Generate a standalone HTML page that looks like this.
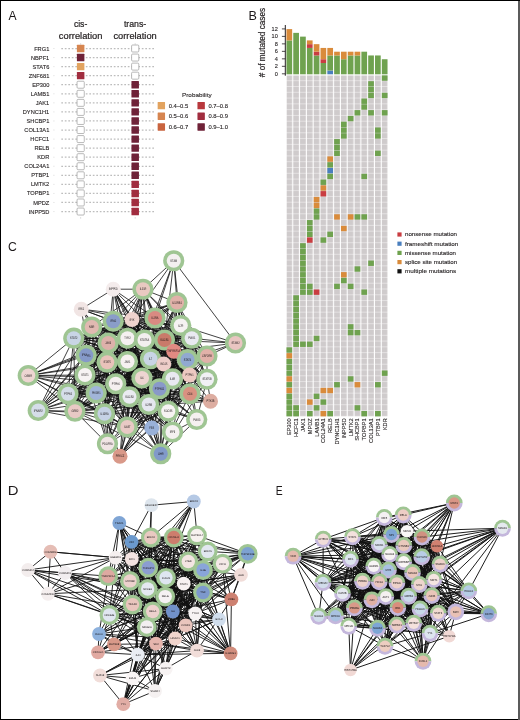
<!DOCTYPE html>
<html lang="en"><head><meta charset="utf-8"><title>Figure</title>
<style>html,body{margin:0;padding:0;background:#fff}body{width:520px;height:720px;overflow:hidden}svg{display:block}text{font-family:"Liberation Sans", sans-serif}</style></head><body>
<svg width="520" height="720" viewBox="0 0 520 720">
<rect x="0" y="0" width="520" height="720" fill="#fff"/>
<g id="panelA">
<text transform="translate(8.43 19.95) scale(0.887 1)" font-size="13.7" fill="#1c1819">A</text>
<text x="80.60" y="26.90" font-size="9.4" text-anchor="middle" fill="#231f20" textLength="13.40" lengthAdjust="spacingAndGlyphs" stroke="#231f20" stroke-width="0.22">cis-</text>
<text x="80.60" y="38.90" font-size="9.4" text-anchor="middle" fill="#231f20" textLength="43.50" lengthAdjust="spacingAndGlyphs" stroke="#231f20" stroke-width="0.22">correlation</text>
<text x="135.10" y="26.90" font-size="9.4" text-anchor="middle" fill="#231f20" textLength="22.40" lengthAdjust="spacingAndGlyphs" stroke="#231f20" stroke-width="0.22">trans-</text>
<text x="135.10" y="38.90" font-size="9.4" text-anchor="middle" fill="#231f20" textLength="43.30" lengthAdjust="spacingAndGlyphs" stroke="#231f20" stroke-width="0.22">correlation</text>
<path d="M80.65 43.3V44.6M80.65 217.2V218.6" stroke="#b5b5b5" stroke-width="0.6"/>
<path d="M135.20 43.3V44.6M135.20 217.2V218.6" stroke="#b5b5b5" stroke-width="0.6"/>
<line x1="61.3" y1="48.50" x2="154.3" y2="48.50" stroke="#bdbdbd" stroke-width="1.25" stroke-dasharray="1.7 1.8"/>
<line x1="53.3" y1="48.50" x2="54.5" y2="48.50" stroke="#d6d6d6" stroke-width="0.7"/>
<text x="49.30" y="50.55" font-size="5.7" text-anchor="end" fill="#2d292a" stroke="#2d292a" stroke-width="0.12">FRG1</text>
<rect x="76.90" y="44.80" width="7.5" height="7.4" rx="0.5" fill="#d68550"/>
<rect x="131.60" y="45.00" width="7.2" height="7.0" rx="1" fill="#fff" stroke="#a2a2a2" stroke-width="0.75"/>
<line x1="61.3" y1="57.56" x2="154.3" y2="57.56" stroke="#bdbdbd" stroke-width="1.25" stroke-dasharray="1.7 1.8"/>
<line x1="53.3" y1="57.56" x2="54.5" y2="57.56" stroke="#d6d6d6" stroke-width="0.7"/>
<text x="49.30" y="59.61" font-size="5.7" text-anchor="end" fill="#2d292a" stroke="#2d292a" stroke-width="0.12">NBPF1</text>
<rect x="76.90" y="53.86" width="7.5" height="7.4" rx="0.5" fill="#6f2238"/>
<rect x="131.60" y="54.06" width="7.2" height="7.0" rx="1" fill="#fff" stroke="#a2a2a2" stroke-width="0.75"/>
<line x1="61.3" y1="66.62" x2="154.3" y2="66.62" stroke="#bdbdbd" stroke-width="1.25" stroke-dasharray="1.7 1.8"/>
<line x1="53.3" y1="66.62" x2="54.5" y2="66.62" stroke="#d6d6d6" stroke-width="0.7"/>
<text x="49.30" y="68.67" font-size="5.7" text-anchor="end" fill="#2d292a" stroke="#2d292a" stroke-width="0.12">STAT6</text>
<rect x="76.90" y="62.92" width="7.5" height="7.4" rx="0.5" fill="#e2a35f"/>
<rect x="131.60" y="63.12" width="7.2" height="7.0" rx="1" fill="#fff" stroke="#a2a2a2" stroke-width="0.75"/>
<line x1="61.3" y1="75.67" x2="154.3" y2="75.67" stroke="#bdbdbd" stroke-width="1.25" stroke-dasharray="1.7 1.8"/>
<line x1="53.3" y1="75.67" x2="54.5" y2="75.67" stroke="#d6d6d6" stroke-width="0.7"/>
<text x="49.30" y="77.72" font-size="5.7" text-anchor="end" fill="#2d292a" stroke="#2d292a" stroke-width="0.12">ZNF681</text>
<rect x="76.90" y="71.97" width="7.5" height="7.4" rx="0.5" fill="#a12d3f"/>
<rect x="131.60" y="72.17" width="7.2" height="7.0" rx="1" fill="#fff" stroke="#a2a2a2" stroke-width="0.75"/>
<line x1="61.3" y1="84.73" x2="154.3" y2="84.73" stroke="#bdbdbd" stroke-width="1.25" stroke-dasharray="1.7 1.8"/>
<line x1="53.3" y1="84.73" x2="54.5" y2="84.73" stroke="#d6d6d6" stroke-width="0.7"/>
<text x="49.30" y="86.78" font-size="5.7" text-anchor="end" fill="#2d292a" stroke="#2d292a" stroke-width="0.12">EP300</text>
<rect x="77.05" y="81.23" width="7.2" height="7.0" rx="1" fill="#fff" stroke="#a2a2a2" stroke-width="0.75"/>
<rect x="131.45" y="81.03" width="7.5" height="7.4" rx="0.5" fill="#6f2238"/>
<line x1="61.3" y1="93.79" x2="154.3" y2="93.79" stroke="#bdbdbd" stroke-width="1.25" stroke-dasharray="1.7 1.8"/>
<line x1="53.3" y1="93.79" x2="54.5" y2="93.79" stroke="#d6d6d6" stroke-width="0.7"/>
<text x="49.30" y="95.84" font-size="5.7" text-anchor="end" fill="#2d292a" stroke="#2d292a" stroke-width="0.12">LAMB1</text>
<rect x="77.05" y="90.29" width="7.2" height="7.0" rx="1" fill="#fff" stroke="#a2a2a2" stroke-width="0.75"/>
<rect x="131.45" y="90.09" width="7.5" height="7.4" rx="0.5" fill="#6f2238"/>
<line x1="61.3" y1="102.85" x2="154.3" y2="102.85" stroke="#bdbdbd" stroke-width="1.25" stroke-dasharray="1.7 1.8"/>
<line x1="53.3" y1="102.85" x2="54.5" y2="102.85" stroke="#d6d6d6" stroke-width="0.7"/>
<text x="49.30" y="104.90" font-size="5.7" text-anchor="end" fill="#2d292a" stroke="#2d292a" stroke-width="0.12">JAK1</text>
<rect x="77.05" y="99.35" width="7.2" height="7.0" rx="1" fill="#fff" stroke="#a2a2a2" stroke-width="0.75"/>
<rect x="131.45" y="99.15" width="7.5" height="7.4" rx="0.5" fill="#6f2238"/>
<line x1="61.3" y1="111.91" x2="154.3" y2="111.91" stroke="#bdbdbd" stroke-width="1.25" stroke-dasharray="1.7 1.8"/>
<line x1="53.3" y1="111.91" x2="54.5" y2="111.91" stroke="#d6d6d6" stroke-width="0.7"/>
<text x="49.30" y="113.96" font-size="5.7" text-anchor="end" fill="#2d292a" stroke="#2d292a" stroke-width="0.12">DYNC1H1</text>
<rect x="77.05" y="108.41" width="7.2" height="7.0" rx="1" fill="#fff" stroke="#a2a2a2" stroke-width="0.75"/>
<rect x="131.45" y="108.21" width="7.5" height="7.4" rx="0.5" fill="#6f2238"/>
<line x1="61.3" y1="120.96" x2="154.3" y2="120.96" stroke="#bdbdbd" stroke-width="1.25" stroke-dasharray="1.7 1.8"/>
<line x1="53.3" y1="120.96" x2="54.5" y2="120.96" stroke="#d6d6d6" stroke-width="0.7"/>
<text x="49.30" y="123.01" font-size="5.7" text-anchor="end" fill="#2d292a" stroke="#2d292a" stroke-width="0.12">SHCBP1</text>
<rect x="77.05" y="117.46" width="7.2" height="7.0" rx="1" fill="#fff" stroke="#a2a2a2" stroke-width="0.75"/>
<rect x="131.45" y="117.26" width="7.5" height="7.4" rx="0.5" fill="#6f2238"/>
<line x1="61.3" y1="130.02" x2="154.3" y2="130.02" stroke="#bdbdbd" stroke-width="1.25" stroke-dasharray="1.7 1.8"/>
<line x1="53.3" y1="130.02" x2="54.5" y2="130.02" stroke="#d6d6d6" stroke-width="0.7"/>
<text x="49.30" y="132.07" font-size="5.7" text-anchor="end" fill="#2d292a" stroke="#2d292a" stroke-width="0.12">COL13A1</text>
<rect x="77.05" y="126.52" width="7.2" height="7.0" rx="1" fill="#fff" stroke="#a2a2a2" stroke-width="0.75"/>
<rect x="131.45" y="126.32" width="7.5" height="7.4" rx="0.5" fill="#6f2238"/>
<line x1="61.3" y1="139.08" x2="154.3" y2="139.08" stroke="#bdbdbd" stroke-width="1.25" stroke-dasharray="1.7 1.8"/>
<line x1="53.3" y1="139.08" x2="54.5" y2="139.08" stroke="#d6d6d6" stroke-width="0.7"/>
<text x="49.30" y="141.13" font-size="5.7" text-anchor="end" fill="#2d292a" stroke="#2d292a" stroke-width="0.12">HCFC1</text>
<rect x="77.05" y="135.58" width="7.2" height="7.0" rx="1" fill="#fff" stroke="#a2a2a2" stroke-width="0.75"/>
<rect x="131.45" y="135.38" width="7.5" height="7.4" rx="0.5" fill="#6f2238"/>
<line x1="61.3" y1="148.14" x2="154.3" y2="148.14" stroke="#bdbdbd" stroke-width="1.25" stroke-dasharray="1.7 1.8"/>
<line x1="53.3" y1="148.14" x2="54.5" y2="148.14" stroke="#d6d6d6" stroke-width="0.7"/>
<text x="49.30" y="150.19" font-size="5.7" text-anchor="end" fill="#2d292a" stroke="#2d292a" stroke-width="0.12">RELB</text>
<rect x="77.05" y="144.64" width="7.2" height="7.0" rx="1" fill="#fff" stroke="#a2a2a2" stroke-width="0.75"/>
<rect x="131.45" y="144.44" width="7.5" height="7.4" rx="0.5" fill="#6f2238"/>
<line x1="61.3" y1="157.20" x2="154.3" y2="157.20" stroke="#bdbdbd" stroke-width="1.25" stroke-dasharray="1.7 1.8"/>
<line x1="53.3" y1="157.20" x2="54.5" y2="157.20" stroke="#d6d6d6" stroke-width="0.7"/>
<text x="49.30" y="159.25" font-size="5.7" text-anchor="end" fill="#2d292a" stroke="#2d292a" stroke-width="0.12">KDR</text>
<rect x="77.05" y="153.70" width="7.2" height="7.0" rx="1" fill="#fff" stroke="#a2a2a2" stroke-width="0.75"/>
<rect x="131.45" y="153.50" width="7.5" height="7.4" rx="0.5" fill="#6f2238"/>
<line x1="61.3" y1="166.25" x2="154.3" y2="166.25" stroke="#bdbdbd" stroke-width="1.25" stroke-dasharray="1.7 1.8"/>
<line x1="53.3" y1="166.25" x2="54.5" y2="166.25" stroke="#d6d6d6" stroke-width="0.7"/>
<text x="49.30" y="168.30" font-size="5.7" text-anchor="end" fill="#2d292a" stroke="#2d292a" stroke-width="0.12">COL24A1</text>
<rect x="77.05" y="162.75" width="7.2" height="7.0" rx="1" fill="#fff" stroke="#a2a2a2" stroke-width="0.75"/>
<rect x="131.45" y="162.55" width="7.5" height="7.4" rx="0.5" fill="#6f2238"/>
<line x1="61.3" y1="175.31" x2="154.3" y2="175.31" stroke="#bdbdbd" stroke-width="1.25" stroke-dasharray="1.7 1.8"/>
<line x1="53.3" y1="175.31" x2="54.5" y2="175.31" stroke="#d6d6d6" stroke-width="0.7"/>
<text x="49.30" y="177.36" font-size="5.7" text-anchor="end" fill="#2d292a" stroke="#2d292a" stroke-width="0.12">PTBP1</text>
<rect x="77.05" y="171.81" width="7.2" height="7.0" rx="1" fill="#fff" stroke="#a2a2a2" stroke-width="0.75"/>
<rect x="131.45" y="171.61" width="7.5" height="7.4" rx="0.5" fill="#6f2238"/>
<line x1="61.3" y1="184.37" x2="154.3" y2="184.37" stroke="#bdbdbd" stroke-width="1.25" stroke-dasharray="1.7 1.8"/>
<line x1="53.3" y1="184.37" x2="54.5" y2="184.37" stroke="#d6d6d6" stroke-width="0.7"/>
<text x="49.30" y="186.42" font-size="5.7" text-anchor="end" fill="#2d292a" stroke="#2d292a" stroke-width="0.12">LMTK2</text>
<rect x="77.05" y="180.87" width="7.2" height="7.0" rx="1" fill="#fff" stroke="#a2a2a2" stroke-width="0.75"/>
<rect x="131.45" y="180.67" width="7.5" height="7.4" rx="0.5" fill="#a12d3f"/>
<line x1="61.3" y1="193.43" x2="154.3" y2="193.43" stroke="#bdbdbd" stroke-width="1.25" stroke-dasharray="1.7 1.8"/>
<line x1="53.3" y1="193.43" x2="54.5" y2="193.43" stroke="#d6d6d6" stroke-width="0.7"/>
<text x="49.30" y="195.48" font-size="5.7" text-anchor="end" fill="#2d292a" stroke="#2d292a" stroke-width="0.12">TOPBP1</text>
<rect x="77.05" y="189.93" width="7.2" height="7.0" rx="1" fill="#fff" stroke="#a2a2a2" stroke-width="0.75"/>
<rect x="131.45" y="189.73" width="7.5" height="7.4" rx="0.5" fill="#a12d3f"/>
<line x1="61.3" y1="202.49" x2="154.3" y2="202.49" stroke="#bdbdbd" stroke-width="1.25" stroke-dasharray="1.7 1.8"/>
<line x1="53.3" y1="202.49" x2="54.5" y2="202.49" stroke="#d6d6d6" stroke-width="0.7"/>
<text x="49.30" y="204.54" font-size="5.7" text-anchor="end" fill="#2d292a" stroke="#2d292a" stroke-width="0.12">MPDZ</text>
<rect x="77.05" y="198.99" width="7.2" height="7.0" rx="1" fill="#fff" stroke="#a2a2a2" stroke-width="0.75"/>
<rect x="131.45" y="198.79" width="7.5" height="7.4" rx="0.5" fill="#a12d3f"/>
<line x1="61.3" y1="211.54" x2="154.3" y2="211.54" stroke="#bdbdbd" stroke-width="1.25" stroke-dasharray="1.7 1.8"/>
<line x1="53.3" y1="211.54" x2="54.5" y2="211.54" stroke="#d6d6d6" stroke-width="0.7"/>
<text x="49.30" y="213.59" font-size="5.7" text-anchor="end" fill="#2d292a" stroke="#2d292a" stroke-width="0.12">INPP5D</text>
<rect x="77.05" y="208.04" width="7.2" height="7.0" rx="1" fill="#fff" stroke="#a2a2a2" stroke-width="0.75"/>
<rect x="131.45" y="207.84" width="7.5" height="7.4" rx="0.5" fill="#a12d3f"/>
<text x="196.80" y="96.80" font-size="6.0" text-anchor="middle" fill="#2d292a" textLength="29.50" lengthAdjust="spacingAndGlyphs" stroke="#2d292a" stroke-width="0.12">Probability</text>
<rect x="157.65" y="101.90" width="7.4" height="7.4" rx="0.4" fill="#e2a35f"/>
<text x="168.65" y="107.70" font-size="5.7" text-anchor="start" fill="#2d292a" textLength="19.50" lengthAdjust="spacingAndGlyphs" stroke="#2d292a" stroke-width="0.12">0.4–0.5</text>
<rect x="157.65" y="112.55" width="7.4" height="7.4" rx="0.4" fill="#d68550"/>
<text x="168.65" y="118.35" font-size="5.7" text-anchor="start" fill="#2d292a" textLength="19.50" lengthAdjust="spacingAndGlyphs" stroke="#2d292a" stroke-width="0.12">0.5–0.6</text>
<rect x="157.65" y="123.30" width="7.4" height="7.4" rx="0.4" fill="#c9643f"/>
<text x="168.65" y="129.10" font-size="5.7" text-anchor="start" fill="#2d292a" textLength="19.50" lengthAdjust="spacingAndGlyphs" stroke="#2d292a" stroke-width="0.12">0.6–0.7</text>
<rect x="197.45" y="101.90" width="7.4" height="7.4" rx="0.4" fill="#b8383d"/>
<text x="208.45" y="107.70" font-size="5.7" text-anchor="start" fill="#2d292a" textLength="19.50" lengthAdjust="spacingAndGlyphs" stroke="#2d292a" stroke-width="0.12">0.7–0.8</text>
<rect x="197.45" y="112.55" width="7.4" height="7.4" rx="0.4" fill="#a12d3f"/>
<text x="208.45" y="118.35" font-size="5.7" text-anchor="start" fill="#2d292a" textLength="19.50" lengthAdjust="spacingAndGlyphs" stroke="#2d292a" stroke-width="0.12">0.8–0.9</text>
<rect x="197.45" y="123.30" width="7.4" height="7.4" rx="0.4" fill="#6f2238"/>
<text x="208.45" y="129.10" font-size="5.7" text-anchor="start" fill="#2d292a" textLength="19.50" lengthAdjust="spacingAndGlyphs" stroke="#2d292a" stroke-width="0.12">0.9–1.0</text>
</g>
<g id="panelB">
<text transform="translate(248.57 19.95) scale(0.92 1)" font-size="13.7" fill="#1c1819">B</text>
<text transform="translate(265.3 77.2) rotate(-90)" font-size="8.6" fill="#231f20" stroke="#231f20" stroke-width="0.2" textLength="69.3" lengthAdjust="spacingAndGlyphs"># of mutated cases</text>
<path d="M285.3 25V75.7" stroke="#231f20" stroke-width="1" fill="none"/>
<path d="M281.9 73.80H285.3" stroke="#231f20" stroke-width="0.8"/>
<text x="277.80" y="75.75" font-size="5.6" text-anchor="end" fill="#2d292a" stroke="#2d292a" stroke-width="0.12">0</text>
<path d="M281.9 66.32H285.3" stroke="#231f20" stroke-width="0.8"/>
<text x="277.80" y="68.27" font-size="5.6" text-anchor="end" fill="#2d292a" stroke="#2d292a" stroke-width="0.12">2</text>
<path d="M281.9 58.83H285.3" stroke="#231f20" stroke-width="0.8"/>
<text x="277.80" y="60.78" font-size="5.6" text-anchor="end" fill="#2d292a" stroke="#2d292a" stroke-width="0.12">4</text>
<path d="M281.9 51.35H285.3" stroke="#231f20" stroke-width="0.8"/>
<text x="277.80" y="53.30" font-size="5.6" text-anchor="end" fill="#2d292a" stroke="#2d292a" stroke-width="0.12">6</text>
<path d="M281.9 43.86H285.3" stroke="#231f20" stroke-width="0.8"/>
<text x="277.80" y="45.81" font-size="5.6" text-anchor="end" fill="#2d292a" stroke="#2d292a" stroke-width="0.12">8</text>
<path d="M281.9 36.38H285.3" stroke="#231f20" stroke-width="0.8"/>
<text x="277.80" y="38.33" font-size="5.6" text-anchor="end" fill="#2d292a" stroke="#2d292a" stroke-width="0.12">10</text>
<path d="M281.9 28.90H285.3" stroke="#231f20" stroke-width="0.8"/>
<text x="277.80" y="30.85" font-size="5.6" text-anchor="end" fill="#2d292a" stroke="#2d292a" stroke-width="0.12">12</text>
<rect x="286.46" y="40.40" width="5.7" height="33.90" fill="#6fa24f"/>
<rect x="286.46" y="29.10" width="5.7" height="11.30" fill="#d98b3b"/>
<rect x="293.27" y="32.86" width="5.7" height="41.44" fill="#6fa24f"/>
<rect x="300.08" y="36.63" width="5.7" height="37.67" fill="#6fa24f"/>
<rect x="306.90" y="47.93" width="5.7" height="26.37" fill="#6fa24f"/>
<rect x="306.90" y="44.16" width="5.7" height="3.77" fill="#c93d41"/>
<rect x="306.90" y="40.40" width="5.7" height="3.77" fill="#d98b3b"/>
<rect x="313.71" y="55.46" width="5.7" height="18.84" fill="#6fa24f"/>
<rect x="313.71" y="51.70" width="5.7" height="3.77" fill="#c93d41"/>
<rect x="313.71" y="44.16" width="5.7" height="7.53" fill="#d98b3b"/>
<rect x="320.52" y="63.00" width="5.7" height="11.30" fill="#6fa24f"/>
<rect x="320.52" y="59.23" width="5.7" height="3.77" fill="#c93d41"/>
<rect x="320.52" y="47.93" width="5.7" height="11.30" fill="#d98b3b"/>
<rect x="327.33" y="70.53" width="5.7" height="3.77" fill="#4a7fbe"/>
<rect x="327.33" y="55.46" width="5.7" height="15.07" fill="#6fa24f"/>
<rect x="327.33" y="47.93" width="5.7" height="7.53" fill="#d98b3b"/>
<rect x="334.14" y="55.46" width="5.7" height="18.84" fill="#6fa24f"/>
<rect x="334.14" y="51.70" width="5.7" height="3.77" fill="#d98b3b"/>
<rect x="340.96" y="59.23" width="5.7" height="15.07" fill="#6fa24f"/>
<rect x="340.96" y="51.70" width="5.7" height="7.53" fill="#d98b3b"/>
<rect x="347.77" y="55.46" width="5.7" height="18.84" fill="#6fa24f"/>
<rect x="347.77" y="51.70" width="5.7" height="3.77" fill="#d98b3b"/>
<rect x="354.58" y="55.46" width="5.7" height="18.84" fill="#6fa24f"/>
<rect x="354.58" y="51.70" width="5.7" height="3.77" fill="#d98b3b"/>
<rect x="361.39" y="51.70" width="5.7" height="22.60" fill="#6fa24f"/>
<rect x="368.20" y="55.46" width="5.7" height="18.84" fill="#6fa24f"/>
<rect x="375.02" y="55.46" width="5.7" height="18.84" fill="#6fa24f"/>
<rect x="381.83" y="59.23" width="5.7" height="15.07" fill="#6fa24f"/>
<defs><pattern id="gc" x="286.460" y="75.400" width="6.812" height="5.786" patternUnits="userSpaceOnUse"><rect x="0" y="0" width="5.7" height="5.366" fill="#cfcbcc"/></pattern></defs>
<rect x="286.46" y="75.40" width="101.28" height="340.95" fill="url(#gc)"/>
<rect x="286.46" y="347.34" width="5.7" height="5.37" fill="#6fa24f"/>
<rect x="286.46" y="353.13" width="5.7" height="5.37" fill="#d98b3b"/>
<rect x="286.46" y="358.91" width="5.7" height="5.37" fill="#6fa24f"/>
<rect x="286.46" y="364.70" width="5.7" height="5.37" fill="#6fa24f"/>
<rect x="286.46" y="370.49" width="5.7" height="5.37" fill="#6fa24f"/>
<rect x="286.46" y="376.27" width="5.7" height="5.37" fill="#d98b3b"/>
<rect x="286.46" y="382.06" width="5.7" height="5.37" fill="#6fa24f"/>
<rect x="286.46" y="387.84" width="5.7" height="5.37" fill="#d98b3b"/>
<rect x="286.46" y="393.63" width="5.7" height="5.37" fill="#6fa24f"/>
<rect x="286.46" y="399.42" width="5.7" height="5.37" fill="#6fa24f"/>
<rect x="286.46" y="405.20" width="5.7" height="5.37" fill="#6fa24f"/>
<rect x="286.46" y="410.99" width="5.7" height="5.37" fill="#6fa24f"/>
<rect x="293.27" y="295.27" width="5.7" height="5.37" fill="#6fa24f"/>
<rect x="293.27" y="301.05" width="5.7" height="5.37" fill="#6fa24f"/>
<rect x="293.27" y="306.84" width="5.7" height="5.37" fill="#6fa24f"/>
<rect x="293.27" y="312.63" width="5.7" height="5.37" fill="#6fa24f"/>
<rect x="293.27" y="318.41" width="5.7" height="5.37" fill="#6fa24f"/>
<rect x="293.27" y="324.20" width="5.7" height="5.37" fill="#6fa24f"/>
<rect x="293.27" y="329.98" width="5.7" height="5.37" fill="#6fa24f"/>
<rect x="293.27" y="335.77" width="5.7" height="5.37" fill="#6fa24f"/>
<rect x="293.27" y="341.56" width="5.7" height="5.37" fill="#6fa24f"/>
<rect x="293.27" y="405.20" width="5.7" height="5.37" fill="#6fa24f"/>
<rect x="293.27" y="410.99" width="5.7" height="5.37" fill="#6fa24f"/>
<rect x="300.08" y="243.19" width="5.7" height="5.37" fill="#6fa24f"/>
<rect x="300.08" y="248.98" width="5.7" height="5.37" fill="#6fa24f"/>
<rect x="300.08" y="254.77" width="5.7" height="5.37" fill="#6fa24f"/>
<rect x="300.08" y="260.55" width="5.7" height="5.37" fill="#6fa24f"/>
<rect x="300.08" y="266.34" width="5.7" height="5.37" fill="#6fa24f"/>
<rect x="300.08" y="272.12" width="5.7" height="5.37" fill="#6fa24f"/>
<rect x="300.08" y="277.91" width="5.7" height="5.37" fill="#6fa24f"/>
<rect x="300.08" y="283.70" width="5.7" height="5.37" fill="#6fa24f"/>
<rect x="300.08" y="289.48" width="5.7" height="5.37" fill="#6fa24f"/>
<rect x="300.08" y="341.56" width="5.7" height="5.37" fill="#6fa24f"/>
<rect x="306.90" y="220.05" width="5.7" height="5.37" fill="#6fa24f"/>
<rect x="306.90" y="225.84" width="5.7" height="5.37" fill="#6fa24f"/>
<rect x="306.90" y="231.62" width="5.7" height="5.37" fill="#6fa24f"/>
<rect x="306.90" y="237.41" width="5.7" height="5.37" fill="#c93d41"/>
<rect x="306.90" y="283.70" width="5.7" height="5.37" fill="#6fa24f"/>
<rect x="306.90" y="289.48" width="5.7" height="5.37" fill="#6fa24f"/>
<rect x="306.90" y="341.56" width="5.7" height="5.37" fill="#6fa24f"/>
<rect x="306.90" y="399.42" width="5.7" height="5.37" fill="#d98b3b"/>
<rect x="306.90" y="410.99" width="5.7" height="5.37" fill="#6fa24f"/>
<rect x="313.71" y="196.91" width="5.7" height="5.37" fill="#d98b3b"/>
<rect x="313.71" y="202.69" width="5.7" height="5.37" fill="#d98b3b"/>
<rect x="313.71" y="208.48" width="5.7" height="5.37" fill="#6fa24f"/>
<rect x="313.71" y="214.26" width="5.7" height="5.37" fill="#6fa24f"/>
<rect x="313.71" y="289.48" width="5.7" height="5.37" fill="#c93d41"/>
<rect x="313.71" y="335.77" width="5.7" height="5.37" fill="#6fa24f"/>
<rect x="313.71" y="393.63" width="5.7" height="5.37" fill="#6fa24f"/>
<rect x="313.71" y="405.20" width="5.7" height="5.37" fill="#6fa24f"/>
<rect x="320.52" y="179.55" width="5.7" height="5.37" fill="#6fa24f"/>
<rect x="320.52" y="185.33" width="5.7" height="5.37" fill="#d98b3b"/>
<rect x="320.52" y="191.12" width="5.7" height="5.37" fill="#c93d41"/>
<rect x="320.52" y="237.41" width="5.7" height="5.37" fill="#6fa24f"/>
<rect x="320.52" y="387.84" width="5.7" height="5.37" fill="#d98b3b"/>
<rect x="320.52" y="399.42" width="5.7" height="5.37" fill="#6fa24f"/>
<rect x="320.52" y="410.99" width="5.7" height="5.37" fill="#d98b3b"/>
<rect x="327.33" y="156.40" width="5.7" height="5.37" fill="#d98b3b"/>
<rect x="327.33" y="162.19" width="5.7" height="5.37" fill="#6fa24f"/>
<rect x="327.33" y="167.98" width="5.7" height="5.37" fill="#4a7fbe"/>
<rect x="327.33" y="173.76" width="5.7" height="5.37" fill="#6fa24f"/>
<rect x="327.33" y="231.62" width="5.7" height="5.37" fill="#6fa24f"/>
<rect x="327.33" y="387.84" width="5.7" height="5.37" fill="#d98b3b"/>
<rect x="327.33" y="410.99" width="5.7" height="5.37" fill="#6fa24f"/>
<rect x="334.14" y="139.05" width="5.7" height="5.37" fill="#6fa24f"/>
<rect x="334.14" y="144.83" width="5.7" height="5.37" fill="#6fa24f"/>
<rect x="334.14" y="150.62" width="5.7" height="5.37" fill="#6fa24f"/>
<rect x="334.14" y="214.26" width="5.7" height="5.37" fill="#d98b3b"/>
<rect x="334.14" y="283.70" width="5.7" height="5.37" fill="#6fa24f"/>
<rect x="334.14" y="382.06" width="5.7" height="5.37" fill="#6fa24f"/>
<rect x="340.96" y="121.69" width="5.7" height="5.37" fill="#6fa24f"/>
<rect x="340.96" y="127.47" width="5.7" height="5.37" fill="#6fa24f"/>
<rect x="340.96" y="133.26" width="5.7" height="5.37" fill="#6fa24f"/>
<rect x="340.96" y="225.84" width="5.7" height="5.37" fill="#d98b3b"/>
<rect x="340.96" y="272.12" width="5.7" height="5.37" fill="#d98b3b"/>
<rect x="340.96" y="277.91" width="5.7" height="5.37" fill="#6fa24f"/>
<rect x="347.77" y="115.90" width="5.7" height="5.37" fill="#6fa24f"/>
<rect x="347.77" y="214.26" width="5.7" height="5.37" fill="#d98b3b"/>
<rect x="347.77" y="283.70" width="5.7" height="5.37" fill="#6fa24f"/>
<rect x="347.77" y="324.20" width="5.7" height="5.37" fill="#6fa24f"/>
<rect x="347.77" y="329.98" width="5.7" height="5.37" fill="#6fa24f"/>
<rect x="347.77" y="376.27" width="5.7" height="5.37" fill="#6fa24f"/>
<rect x="354.58" y="110.12" width="5.7" height="5.37" fill="#6fa24f"/>
<rect x="354.58" y="214.26" width="5.7" height="5.37" fill="#6fa24f"/>
<rect x="354.58" y="266.34" width="5.7" height="5.37" fill="#6fa24f"/>
<rect x="354.58" y="329.98" width="5.7" height="5.37" fill="#6fa24f"/>
<rect x="354.58" y="382.06" width="5.7" height="5.37" fill="#d98b3b"/>
<rect x="354.58" y="405.20" width="5.7" height="5.37" fill="#6fa24f"/>
<rect x="361.39" y="98.54" width="5.7" height="5.37" fill="#6fa24f"/>
<rect x="361.39" y="104.33" width="5.7" height="5.37" fill="#6fa24f"/>
<rect x="361.39" y="173.76" width="5.7" height="5.37" fill="#6fa24f"/>
<rect x="361.39" y="214.26" width="5.7" height="5.37" fill="#6fa24f"/>
<rect x="361.39" y="289.48" width="5.7" height="5.37" fill="#6fa24f"/>
<rect x="361.39" y="410.99" width="5.7" height="5.37" fill="#6fa24f"/>
<rect x="368.20" y="81.19" width="5.7" height="5.37" fill="#6fa24f"/>
<rect x="368.20" y="86.97" width="5.7" height="5.37" fill="#6fa24f"/>
<rect x="368.20" y="92.76" width="5.7" height="5.37" fill="#6fa24f"/>
<rect x="368.20" y="110.12" width="5.7" height="5.37" fill="#6fa24f"/>
<rect x="368.20" y="260.55" width="5.7" height="5.37" fill="#6fa24f"/>
<rect x="375.02" y="127.47" width="5.7" height="5.37" fill="#6fa24f"/>
<rect x="375.02" y="133.26" width="5.7" height="5.37" fill="#6fa24f"/>
<rect x="375.02" y="150.62" width="5.7" height="5.37" fill="#6fa24f"/>
<rect x="375.02" y="382.06" width="5.7" height="5.37" fill="#6fa24f"/>
<rect x="375.02" y="410.99" width="5.7" height="5.37" fill="#6fa24f"/>
<rect x="381.83" y="75.40" width="5.7" height="5.37" fill="#6fa24f"/>
<rect x="381.83" y="92.76" width="5.7" height="5.37" fill="#6fa24f"/>
<rect x="381.83" y="110.12" width="5.7" height="5.37" fill="#6fa24f"/>
<rect x="381.83" y="370.49" width="5.7" height="5.37" fill="#6fa24f"/>
<text transform="translate(291.36 418.3) rotate(-90)" font-size="5.6" text-anchor="end" fill="#2d292a" stroke="#2d292a" stroke-width="0.12">EP300</text>
<text transform="translate(298.17 418.3) rotate(-90)" font-size="5.6" text-anchor="end" fill="#2d292a" stroke="#2d292a" stroke-width="0.12">HCFC1</text>
<text transform="translate(304.98 418.3) rotate(-90)" font-size="5.6" text-anchor="end" fill="#2d292a" stroke="#2d292a" stroke-width="0.12">JAK1</text>
<text transform="translate(311.80 418.3) rotate(-90)" font-size="5.6" text-anchor="end" fill="#2d292a" stroke="#2d292a" stroke-width="0.12">MPDZ</text>
<text transform="translate(318.61 418.3) rotate(-90)" font-size="5.6" text-anchor="end" fill="#2d292a" stroke="#2d292a" stroke-width="0.12">LAMB1</text>
<text transform="translate(325.42 418.3) rotate(-90)" font-size="5.6" text-anchor="end" fill="#2d292a" stroke="#2d292a" stroke-width="0.12">COL24A1</text>
<text transform="translate(332.23 418.3) rotate(-90)" font-size="5.6" text-anchor="end" fill="#2d292a" stroke="#2d292a" stroke-width="0.12">RELB</text>
<text transform="translate(339.04 418.3) rotate(-90)" font-size="5.6" text-anchor="end" fill="#2d292a" stroke="#2d292a" stroke-width="0.12">DYNC1H1</text>
<text transform="translate(345.86 418.3) rotate(-90)" font-size="5.6" text-anchor="end" fill="#2d292a" stroke="#2d292a" stroke-width="0.12">INPP5D</text>
<text transform="translate(352.67 418.3) rotate(-90)" font-size="5.6" text-anchor="end" fill="#2d292a" stroke="#2d292a" stroke-width="0.12">LMTK2</text>
<text transform="translate(359.48 418.3) rotate(-90)" font-size="5.6" text-anchor="end" fill="#2d292a" stroke="#2d292a" stroke-width="0.12">SHCBP1</text>
<text transform="translate(366.29 418.3) rotate(-90)" font-size="5.6" text-anchor="end" fill="#2d292a" stroke="#2d292a" stroke-width="0.12">TOPBP1</text>
<text transform="translate(373.10 418.3) rotate(-90)" font-size="5.6" text-anchor="end" fill="#2d292a" stroke="#2d292a" stroke-width="0.12">COL13A1</text>
<text transform="translate(379.92 418.3) rotate(-90)" font-size="5.6" text-anchor="end" fill="#2d292a" stroke="#2d292a" stroke-width="0.12">PTBP1</text>
<text transform="translate(386.73 418.3) rotate(-90)" font-size="5.6" text-anchor="end" fill="#2d292a" stroke="#2d292a" stroke-width="0.12">KDR</text>
<rect x="397.4" y="232.40" width="4.2" height="4.2" fill="#c93d41"/>
<text x="405.00" y="236.45" font-size="5.7" text-anchor="start" fill="#231f20" textLength="52.00" lengthAdjust="spacingAndGlyphs" stroke="#231f20" stroke-width="0.12">nonsense mutation</text>
<rect x="397.4" y="241.60" width="4.2" height="4.2" fill="#4a7fbe"/>
<text x="405.00" y="245.65" font-size="5.7" text-anchor="start" fill="#231f20" textLength="53.30" lengthAdjust="spacingAndGlyphs" stroke="#231f20" stroke-width="0.12">frameshift mutation</text>
<rect x="397.4" y="250.80" width="4.2" height="4.2" fill="#6fa24f"/>
<text x="405.00" y="254.85" font-size="5.7" text-anchor="start" fill="#231f20" textLength="51.00" lengthAdjust="spacingAndGlyphs" stroke="#231f20" stroke-width="0.12">missense mutation</text>
<rect x="397.4" y="260.00" width="4.2" height="4.2" fill="#d98b3b"/>
<text x="405.00" y="264.05" font-size="5.7" text-anchor="start" fill="#231f20" textLength="52.20" lengthAdjust="spacingAndGlyphs" stroke="#231f20" stroke-width="0.12">splice site mutation</text>
<rect x="397.4" y="269.20" width="4.2" height="4.2" fill="#111"/>
<text x="405.00" y="273.25" font-size="5.7" text-anchor="start" fill="#231f20" textLength="51.30" lengthAdjust="spacingAndGlyphs" stroke="#231f20" stroke-width="0.12">multiple mutations</text>
</g>
<g id="panelC">
<text transform="translate(7.98 250.75) scale(0.89 1)" font-size="13.7" fill="#1c1819">C</text>
<path d="M190.0 393.8L143.0 289.2M190.0 393.8L148.8 404.5M190.0 393.8L168.2 411.2M207.0 356.0L190.0 393.8M207.0 356.0L177.0 302.5M207.0 356.0L143.0 289.2M207.0 356.0L148.8 404.5M207.0 356.0L142.0 378.0M207.0 356.0L163.8 364.0M207.0 356.0L96.2 393.0M207.0 356.0L189.5 375.0M207.0 356.0L159.5 388.8M207.0 356.0L168.2 411.2M207.0 356.0L207.0 379.2M151.8 428.0L148.8 404.5M151.8 428.0L172.5 378.8M151.8 428.0L142.0 378.0M151.8 428.0L127.3 427.0M151.8 428.0L127.5 361.5M151.8 428.0L159.5 388.8M151.8 428.0L129.5 396.8M151.8 428.0L168.2 411.2M151.8 428.0L107.2 362.2M160.8 453.8L190.0 393.8M160.8 453.8L151.8 428.0M160.8 453.8L75.0 411.2M160.8 453.8L148.8 404.5M160.8 453.8L172.5 378.8M160.8 453.8L142.0 378.0M160.8 453.8L127.3 427.0M160.8 453.8L172.5 432.0M160.8 453.8L127.5 361.5M160.8 453.8L196.8 419.5M160.8 453.8L96.2 393.0M160.8 453.8L159.5 388.8M160.8 453.8L115.8 383.8M160.8 453.8L164.5 340.0M160.8 453.8L129.5 396.8M160.8 453.8L168.2 411.2M160.8 453.8L107.2 362.2M160.8 453.8L144.5 340.0M160.8 453.8L207.0 379.2M75.0 411.2L190.0 393.8M75.0 411.2L104.5 413.8M75.0 411.2L148.8 404.5M75.0 411.2L142.0 378.0M75.0 411.2L127.3 427.0M86.2 355.3L75.0 411.2M86.2 355.3L177.0 302.5M86.2 355.3L142.0 378.0M86.2 355.3L150.5 358.8M86.2 355.3L180.8 325.5M86.2 355.3L163.8 364.0M86.2 355.3L127.5 361.5M86.2 355.3L96.2 393.0M86.2 355.3L189.5 375.0M86.2 355.3L68.0 393.8M86.2 355.3L115.8 383.8M86.2 355.3L164.5 340.0M86.2 355.3L129.5 396.8M86.2 355.3L107.2 362.2M86.2 355.3L144.5 340.0M86.2 355.3L207.0 379.2M86.2 355.3L173.8 351.2M38.2 410.5L75.0 411.2M38.2 410.5L86.2 355.3M38.2 410.5L113.2 321.2M38.2 410.5L104.5 413.8M38.2 410.5L127.3 427.0M38.2 410.5L127.5 361.5M38.2 410.5L108.2 343.0M38.2 410.5L91.8 327.0M38.2 410.5L96.2 393.0M38.2 410.5L68.0 393.8M38.2 410.5L115.8 383.8M38.2 410.5L129.5 396.8M38.2 410.5L85.0 375.0M38.2 410.5L73.8 338.2M38.2 410.5L127.5 338.2M113.2 321.2L75.0 411.2M113.2 321.2L86.2 355.3M113.2 321.2L104.5 413.8M113.2 321.2L177.0 302.5M113.2 321.2L143.0 289.2M113.2 321.2L155.0 318.0M113.2 321.2L172.5 378.8M113.2 321.2L142.0 378.0M113.2 321.2L127.3 427.0M113.2 321.2L150.5 358.8M113.2 321.2L180.8 325.5M113.2 321.2L127.5 361.5M113.2 321.2L108.2 343.0M113.2 321.2L91.8 327.0M113.2 321.2L191.8 338.2M113.2 321.2L96.2 393.0M113.2 321.2L189.5 375.0M113.2 321.2L68.0 393.8M113.2 321.2L115.8 383.8M113.2 321.2L164.5 340.0M113.2 321.2L85.0 375.0M113.2 321.2L107.2 362.2M113.2 321.2L144.5 340.0M113.2 321.2L187.5 359.7M113.2 321.2L132.0 319.5M113.2 321.2L173.8 351.2M113.2 321.2L127.5 338.2M104.5 413.8L148.8 404.5M104.5 413.8L142.0 378.0M104.5 413.8L127.3 427.0M104.5 413.8L159.5 388.8M104.5 413.8L168.2 411.2M143.0 289.2L177.0 302.5M155.0 318.0L190.0 393.8M155.0 318.0L207.0 356.0M155.0 318.0L177.0 302.5M155.0 318.0L143.0 289.2M155.0 318.0L148.8 404.5M155.0 318.0L172.5 378.8M155.0 318.0L142.0 378.0M155.0 318.0L150.5 358.8M155.0 318.0L180.8 325.5M155.0 318.0L163.8 364.0M155.0 318.0L191.8 338.2M155.0 318.0L96.2 393.0M155.0 318.0L159.5 388.8M155.0 318.0L164.5 340.0M155.0 318.0L144.5 340.0M155.0 318.0L187.5 359.7M148.8 404.5L143.0 289.2M148.8 404.5L168.2 411.2M172.5 378.8L190.0 393.8M172.5 378.8L177.0 302.5M172.5 378.8L143.0 289.2M172.5 378.8L148.8 404.5M172.5 378.8L189.5 375.0M172.5 378.8L159.5 388.8M172.5 378.8L168.2 411.2M172.5 378.8L207.0 379.2M142.0 378.0L190.0 393.8M142.0 378.0L148.8 404.5M142.0 378.0L172.5 378.8M142.0 378.0L189.5 375.0M142.0 378.0L159.5 388.8M142.0 378.0L168.2 411.2M142.0 378.0L207.0 379.2M127.3 427.0L190.0 393.8M127.3 427.0L177.0 302.5M127.3 427.0L143.0 289.2M127.3 427.0L148.8 404.5M127.3 427.0L172.5 378.8M127.3 427.0L142.0 378.0M127.3 427.0L189.5 375.0M127.3 427.0L159.5 388.8M127.3 427.0L168.2 411.2M127.3 427.0L207.0 379.2M150.5 358.8L207.0 356.0M150.5 358.8L75.0 411.2M150.5 358.8L104.5 413.8M150.5 358.8L177.0 302.5M150.5 358.8L143.0 289.2M150.5 358.8L148.8 404.5M150.5 358.8L142.0 378.0M150.5 358.8L127.3 427.0M150.5 358.8L163.8 364.0M150.5 358.8L96.2 393.0M150.5 358.8L159.5 388.8M150.5 358.8L115.8 383.8M150.5 358.8L129.5 396.8M150.5 358.8L168.2 411.2M150.5 358.8L85.0 375.0M150.5 358.8L207.0 379.2M150.5 358.8L187.5 359.7M180.8 325.5L190.0 393.8M180.8 325.5L207.0 356.0M180.8 325.5L177.0 302.5M180.8 325.5L143.0 289.2M180.8 325.5L172.5 378.8M180.8 325.5L142.0 378.0M180.8 325.5L150.5 358.8M180.8 325.5L163.8 364.0M180.8 325.5L191.8 338.2M180.8 325.5L189.5 375.0M180.8 325.5L159.5 388.8M180.8 325.5L164.5 340.0M180.8 325.5L85.0 375.0M180.8 325.5L144.5 340.0M180.8 325.5L207.0 379.2M180.8 325.5L187.5 359.7M180.8 325.5L173.8 351.2M113.2 289.2L113.2 321.2M113.2 289.2L143.0 289.2M113.2 289.2L155.0 318.0M113.2 289.2L172.5 378.8M113.2 289.2L142.0 378.0M113.2 289.2L150.5 358.8M113.2 289.2L81.2 309.2M113.2 289.2L127.5 361.5M113.2 289.2L108.2 343.0M113.2 289.2L159.5 388.8M113.2 289.2L164.5 340.0M113.2 289.2L144.5 340.0M113.2 289.2L132.0 319.5M113.2 289.2L127.5 338.2M172.5 432.0L86.2 355.3M172.5 432.0L113.2 321.2M172.5 432.0L148.8 404.5M172.5 432.0L142.0 378.0M172.5 432.0L127.5 361.5M172.5 432.0L159.5 388.8M172.5 432.0L168.2 411.2M172.5 432.0L85.0 375.0M172.5 432.0L73.8 338.2M172.5 432.0L187.5 359.7M172.5 432.0L127.5 338.2M81.2 309.2L113.2 321.2M81.2 309.2L155.0 318.0M81.2 309.2L127.5 361.5M81.2 309.2L108.2 343.0M81.2 309.2L91.8 327.0M81.2 309.2L96.2 393.0M81.2 309.2L164.5 340.0M81.2 309.2L132.0 319.5M163.8 364.0L75.0 411.2M163.8 364.0L148.8 404.5M163.8 364.0L172.5 378.8M163.8 364.0L142.0 378.0M163.8 364.0L127.3 427.0M163.8 364.0L96.2 393.0M163.8 364.0L189.5 375.0M163.8 364.0L159.5 388.8M163.8 364.0L68.0 393.8M163.8 364.0L115.8 383.8M163.8 364.0L129.5 396.8M163.8 364.0L168.2 411.2M163.8 364.0L85.0 375.0M163.8 364.0L207.0 379.2M127.5 361.5L190.0 393.8M127.5 361.5L207.0 356.0M127.5 361.5L75.0 411.2M127.5 361.5L104.5 413.8M127.5 361.5L143.0 289.2M127.5 361.5L155.0 318.0M127.5 361.5L148.8 404.5M127.5 361.5L172.5 378.8M127.5 361.5L142.0 378.0M127.5 361.5L127.3 427.0M127.5 361.5L150.5 358.8M127.5 361.5L180.8 325.5M127.5 361.5L163.8 364.0M127.5 361.5L191.8 338.2M127.5 361.5L96.2 393.0M127.5 361.5L68.0 393.8M127.5 361.5L115.8 383.8M127.5 361.5L129.5 396.8M127.5 361.5L168.2 411.2M127.5 361.5L85.0 375.0M127.5 361.5L144.5 340.0M127.5 361.5L207.0 379.2M127.5 361.5L187.5 359.7M127.5 361.5L173.8 351.2M108.2 343.0L86.2 355.3M108.2 343.0L104.5 413.8M108.2 343.0L143.0 289.2M108.2 343.0L155.0 318.0M108.2 343.0L148.8 404.5M108.2 343.0L172.5 378.8M108.2 343.0L142.0 378.0M108.2 343.0L180.8 325.5M108.2 343.0L163.8 364.0M108.2 343.0L127.5 361.5M108.2 343.0L191.8 338.2M108.2 343.0L189.5 375.0M108.2 343.0L159.5 388.8M108.2 343.0L68.0 393.8M108.2 343.0L115.8 383.8M108.2 343.0L164.5 340.0M108.2 343.0L129.5 396.8M108.2 343.0L85.0 375.0M108.2 343.0L107.2 362.2M108.2 343.0L144.5 340.0M108.2 343.0L127.5 338.2M91.8 327.0L190.0 393.8M91.8 327.0L207.0 356.0M91.8 327.0L86.2 355.3M91.8 327.0L104.5 413.8M91.8 327.0L143.0 289.2M91.8 327.0L155.0 318.0M91.8 327.0L148.8 404.5M91.8 327.0L142.0 378.0M91.8 327.0L127.3 427.0M91.8 327.0L150.5 358.8M91.8 327.0L127.5 361.5M91.8 327.0L108.2 343.0M91.8 327.0L191.8 338.2M91.8 327.0L96.2 393.0M91.8 327.0L159.5 388.8M91.8 327.0L68.0 393.8M91.8 327.0L164.5 340.0M91.8 327.0L85.0 375.0M91.8 327.0L107.2 362.2M91.8 327.0L144.5 340.0M91.8 327.0L207.0 379.2M91.8 327.0L187.5 359.7M91.8 327.0L127.5 338.2M28.2 375.5L75.0 411.2M28.2 375.5L86.2 355.3M28.2 375.5L104.5 413.8M28.2 375.5L142.0 378.0M28.2 375.5L127.3 427.0M28.2 375.5L127.5 361.5M28.2 375.5L108.2 343.0M28.2 375.5L96.2 393.0M28.2 375.5L115.8 383.8M28.2 375.5L129.5 396.8M28.2 375.5L85.0 375.0M28.2 375.5L73.8 338.2M28.2 375.5L107.2 362.2M28.2 375.5L127.5 338.2M107.5 443.8L190.0 393.8M107.5 443.8L75.0 411.2M107.5 443.8L104.5 413.8M107.5 443.8L142.0 378.0M107.5 443.8L127.3 427.0M107.5 443.8L127.5 361.5M107.5 443.8L96.2 393.0M107.5 443.8L120.0 456.2M107.5 443.8L159.5 388.8M107.5 443.8L115.8 383.8M107.5 443.8L129.5 396.8M107.5 443.8L85.0 375.0M107.5 443.8L107.2 362.2M191.8 338.2L207.0 356.0M191.8 338.2L177.0 302.5M191.8 338.2L148.8 404.5M191.8 338.2L172.5 378.8M191.8 338.2L142.0 378.0M191.8 338.2L150.5 358.8M191.8 338.2L163.8 364.0M191.8 338.2L96.2 393.0M191.8 338.2L189.5 375.0M191.8 338.2L159.5 388.8M191.8 338.2L68.0 393.8M191.8 338.2L168.2 411.2M191.8 338.2L85.0 375.0M191.8 338.2L207.0 379.2M191.8 338.2L187.5 359.7M191.8 338.2L173.8 351.2M196.8 419.5L190.0 393.8M196.8 419.5L148.8 404.5M196.8 419.5L172.5 378.8M196.8 419.5L142.0 378.0M196.8 419.5L172.5 432.0M196.8 419.5L127.5 361.5M196.8 419.5L159.5 388.8M196.8 419.5L168.2 411.2M196.8 419.5L85.0 375.0M196.8 419.5L207.0 379.2M196.8 419.5L187.5 359.7M96.2 393.0L143.0 289.2M96.2 393.0L172.5 378.8M96.2 393.0L127.3 427.0M96.2 393.0L189.5 375.0M96.2 393.0L159.5 388.8M96.2 393.0L129.5 396.8M96.2 393.0L168.2 411.2M120.0 456.2L190.0 393.8M120.0 456.2L104.5 413.8M120.0 456.2L148.8 404.5M120.0 456.2L172.5 378.8M120.0 456.2L142.0 378.0M120.0 456.2L127.3 427.0M120.0 456.2L127.5 361.5M120.0 456.2L96.2 393.0M120.0 456.2L189.5 375.0M120.0 456.2L159.5 388.8M120.0 456.2L129.5 396.8M120.0 456.2L168.2 411.2M120.0 456.2L187.5 359.7M210.5 401.2L190.0 393.8M210.5 401.2L75.0 411.2M210.5 401.2L172.5 378.8M210.5 401.2L96.2 393.0M210.5 401.2L189.5 375.0M210.5 401.2L159.5 388.8M210.5 401.2L129.5 396.8M210.5 401.2L207.0 379.2M189.5 375.0L190.0 393.8M189.5 375.0L177.0 302.5M189.5 375.0L159.5 388.8M189.5 375.0L168.2 411.2M189.5 375.0L207.0 379.2M159.5 388.8L190.0 393.8M159.5 388.8L177.0 302.5M159.5 388.8L148.8 404.5M159.5 388.8L168.2 411.2M68.0 393.8L190.0 393.8M68.0 393.8L75.0 411.2M68.0 393.8L104.5 413.8M68.0 393.8L172.5 378.8M68.0 393.8L127.3 427.0M68.0 393.8L96.2 393.0M68.0 393.8L189.5 375.0M68.0 393.8L159.5 388.8M68.0 393.8L129.5 396.8M68.0 393.8L168.2 411.2M68.0 393.8L207.0 379.2M115.8 383.8L190.0 393.8M115.8 383.8L75.0 411.2M115.8 383.8L104.5 413.8M115.8 383.8L172.5 378.8M115.8 383.8L142.0 378.0M115.8 383.8L96.2 393.0M115.8 383.8L189.5 375.0M115.8 383.8L159.5 388.8M115.8 383.8L68.0 393.8M115.8 383.8L129.5 396.8M115.8 383.8L168.2 411.2M164.5 340.0L190.0 393.8M164.5 340.0L207.0 356.0M164.5 340.0L75.0 411.2M164.5 340.0L177.0 302.5M164.5 340.0L143.0 289.2M164.5 340.0L148.8 404.5M164.5 340.0L172.5 378.8M164.5 340.0L142.0 378.0M164.5 340.0L127.3 427.0M164.5 340.0L150.5 358.8M164.5 340.0L191.8 338.2M164.5 340.0L189.5 375.0M164.5 340.0L159.5 388.8M164.5 340.0L68.0 393.8M164.5 340.0L115.8 383.8M164.5 340.0L168.2 411.2M164.5 340.0L85.0 375.0M164.5 340.0L207.0 379.2M164.5 340.0L187.5 359.7M164.5 340.0L173.8 351.2M129.5 396.8L190.0 393.8M129.5 396.8L75.0 411.2M129.5 396.8L104.5 413.8M129.5 396.8L177.0 302.5M129.5 396.8L143.0 289.2M129.5 396.8L148.8 404.5M129.5 396.8L172.5 378.8M129.5 396.8L142.0 378.0M129.5 396.8L127.3 427.0M129.5 396.8L189.5 375.0M129.5 396.8L159.5 388.8M129.5 396.8L168.2 411.2M129.5 396.8L207.0 379.2M168.2 411.2L177.0 302.5M173.8 260.8L177.0 302.5M173.8 260.8L143.0 289.2M173.8 260.8L155.0 318.0M173.8 260.8L180.8 325.5M173.8 260.8L164.5 340.0M173.8 260.8L235.5 343.0M173.8 260.8L144.5 340.0M173.8 260.8L132.0 319.5M235.5 343.0L207.0 356.0M235.5 343.0L180.8 325.5M235.5 343.0L191.8 338.2M235.5 343.0L164.5 340.0M235.5 343.0L187.5 359.7M235.5 343.0L173.8 351.2M85.0 375.0L75.0 411.2M85.0 375.0L104.5 413.8M85.0 375.0L172.5 378.8M85.0 375.0L142.0 378.0M85.0 375.0L127.3 427.0M85.0 375.0L96.2 393.0M85.0 375.0L189.5 375.0M85.0 375.0L68.0 393.8M85.0 375.0L115.8 383.8M85.0 375.0L129.5 396.8M73.8 338.2L207.0 356.0M73.8 338.2L75.0 411.2M73.8 338.2L86.2 355.3M73.8 338.2L177.0 302.5M73.8 338.2L155.0 318.0M73.8 338.2L142.0 378.0M73.8 338.2L127.3 427.0M73.8 338.2L180.8 325.5M73.8 338.2L163.8 364.0M73.8 338.2L127.5 361.5M73.8 338.2L108.2 343.0M73.8 338.2L191.8 338.2M73.8 338.2L96.2 393.0M73.8 338.2L189.5 375.0M73.8 338.2L68.0 393.8M73.8 338.2L129.5 396.8M73.8 338.2L168.2 411.2M73.8 338.2L85.0 375.0M73.8 338.2L144.5 340.0M73.8 338.2L207.0 379.2M73.8 338.2L127.5 338.2M107.2 362.2L190.0 393.8M107.2 362.2L75.0 411.2M107.2 362.2L104.5 413.8M107.2 362.2L177.0 302.5M107.2 362.2L155.0 318.0M107.2 362.2L148.8 404.5M107.2 362.2L172.5 378.8M107.2 362.2L142.0 378.0M107.2 362.2L127.3 427.0M107.2 362.2L150.5 358.8M107.2 362.2L180.8 325.5M107.2 362.2L163.8 364.0M107.2 362.2L127.5 361.5M107.2 362.2L96.2 393.0M107.2 362.2L189.5 375.0M107.2 362.2L159.5 388.8M107.2 362.2L68.0 393.8M107.2 362.2L115.8 383.8M107.2 362.2L164.5 340.0M107.2 362.2L129.5 396.8M107.2 362.2L168.2 411.2M107.2 362.2L85.0 375.0M107.2 362.2L144.5 340.0M107.2 362.2L207.0 379.2M107.2 362.2L173.8 351.2M144.5 340.0L190.0 393.8M144.5 340.0L75.0 411.2M144.5 340.0L148.8 404.5M144.5 340.0L172.5 378.8M144.5 340.0L142.0 378.0M144.5 340.0L150.5 358.8M144.5 340.0L163.8 364.0M144.5 340.0L191.8 338.2M144.5 340.0L96.2 393.0M144.5 340.0L189.5 375.0M144.5 340.0L159.5 388.8M144.5 340.0L115.8 383.8M144.5 340.0L164.5 340.0M144.5 340.0L129.5 396.8M144.5 340.0L168.2 411.2M144.5 340.0L85.0 375.0M144.5 340.0L207.0 379.2M144.5 340.0L187.5 359.7M207.0 379.2L190.0 393.8M207.0 379.2L177.0 302.5M207.0 379.2L148.8 404.5M207.0 379.2L168.2 411.2M187.5 359.7L190.0 393.8M187.5 359.7L207.0 356.0M187.5 359.7L75.0 411.2M187.5 359.7L177.0 302.5M187.5 359.7L148.8 404.5M187.5 359.7L172.5 378.8M187.5 359.7L142.0 378.0M187.5 359.7L127.3 427.0M187.5 359.7L163.8 364.0M187.5 359.7L189.5 375.0M187.5 359.7L115.8 383.8M187.5 359.7L129.5 396.8M187.5 359.7L168.2 411.2M187.5 359.7L207.0 379.2M132.0 319.5L190.0 393.8M132.0 319.5L207.0 356.0M132.0 319.5L86.2 355.3M132.0 319.5L104.5 413.8M132.0 319.5L177.0 302.5M132.0 319.5L143.0 289.2M132.0 319.5L155.0 318.0M132.0 319.5L148.8 404.5M132.0 319.5L172.5 378.8M132.0 319.5L142.0 378.0M132.0 319.5L127.3 427.0M132.0 319.5L180.8 325.5M132.0 319.5L163.8 364.0M132.0 319.5L127.5 361.5M132.0 319.5L108.2 343.0M132.0 319.5L191.8 338.2M132.0 319.5L96.2 393.0M132.0 319.5L159.5 388.8M132.0 319.5L115.8 383.8M132.0 319.5L129.5 396.8M132.0 319.5L85.0 375.0M132.0 319.5L73.8 338.2M132.0 319.5L107.2 362.2M132.0 319.5L144.5 340.0M132.0 319.5L207.0 379.2M132.0 319.5L187.5 359.7M132.0 319.5L173.8 351.2M132.0 319.5L127.5 338.2M173.8 351.2L207.0 356.0M173.8 351.2L104.5 413.8M173.8 351.2L177.0 302.5M173.8 351.2L143.0 289.2M173.8 351.2L148.8 404.5M173.8 351.2L172.5 378.8M173.8 351.2L142.0 378.0M173.8 351.2L127.3 427.0M173.8 351.2L163.8 364.0M173.8 351.2L189.5 375.0M173.8 351.2L68.0 393.8M173.8 351.2L115.8 383.8M173.8 351.2L129.5 396.8M173.8 351.2L168.2 411.2M173.8 351.2L207.0 379.2M127.5 338.2L190.0 393.8M127.5 338.2L207.0 356.0M127.5 338.2L86.2 355.3M127.5 338.2L104.5 413.8M127.5 338.2L177.0 302.5M127.5 338.2L143.0 289.2M127.5 338.2L155.0 318.0M127.5 338.2L148.8 404.5M127.5 338.2L172.5 378.8M127.5 338.2L142.0 378.0M127.5 338.2L150.5 358.8M127.5 338.2L163.8 364.0M127.5 338.2L127.5 361.5M127.5 338.2L191.8 338.2M127.5 338.2L189.5 375.0M127.5 338.2L159.5 388.8M127.5 338.2L115.8 383.8M127.5 338.2L164.5 340.0M127.5 338.2L129.5 396.8M127.5 338.2L168.2 411.2M127.5 338.2L85.0 375.0M127.5 338.2L144.5 340.0M127.5 338.2L207.0 379.2M127.5 338.2L187.5 359.7M127.5 338.2L173.8 351.2" stroke="#111" stroke-width="0.8" fill="none" stroke-linecap="round"/>
<circle cx="113.25" cy="289.25" r="7.5" fill="#f4ecec"/>
<text transform="translate(113.25 290.45) rotate(0.2) scale(0.0251 0.0350)" text-rendering="geometricPrecision" font-size="100" text-anchor="middle" fill="#151112">INPP5D</text>
<circle cx="81.25" cy="309.25" r="7.5" fill="#f1e5e4"/>
<text transform="translate(81.25 310.45) rotate(0.2) scale(0.0251 0.0350)" text-rendering="geometricPrecision" font-size="100" text-anchor="middle" fill="#151112">IRS1</text>
<circle cx="113.25" cy="321.25" r="10.6" fill="#9fc593"/>
<circle cx="113.25" cy="321.25" r="7.05" fill="#8a9dc9"/>
<text transform="translate(113.25 322.45) rotate(0.2) scale(0.0251 0.0350)" text-rendering="geometricPrecision" font-size="100" text-anchor="middle" fill="#151112">IFNG</text>
<circle cx="91.75" cy="327.00" r="10.6" fill="#9fc593"/>
<circle cx="91.75" cy="327.00" r="7.05" fill="#e1b9b1"/>
<text transform="translate(91.75 328.20) rotate(0.2) scale(0.0251 0.0350)" text-rendering="geometricPrecision" font-size="100" text-anchor="middle" fill="#151112">NBR</text>
<circle cx="132.00" cy="319.50" r="7.5" fill="#eed3ce"/>
<text transform="translate(132.00 320.70) rotate(0.2) scale(0.0251 0.0350)" text-rendering="geometricPrecision" font-size="100" text-anchor="middle" fill="#151112">SYK</text>
<circle cx="73.80" cy="338.20" r="10.6" fill="#9fc593"/>
<circle cx="73.80" cy="338.20" r="7.05" fill="#c9d5e5"/>
<text transform="translate(73.80 339.40) rotate(0.2) scale(0.0251 0.0350)" text-rendering="geometricPrecision" font-size="100" text-anchor="middle" fill="#151112">STAT2</text>
<circle cx="108.25" cy="343.00" r="10.6" fill="#9fc593"/>
<circle cx="108.25" cy="343.00" r="7.05" fill="#ddb1aa"/>
<text transform="translate(108.25 344.20) rotate(0.2) scale(0.0251 0.0350)" text-rendering="geometricPrecision" font-size="100" text-anchor="middle" fill="#151112">JAK3</text>
<circle cx="127.50" cy="338.25" r="10.6" fill="#9fc593"/>
<circle cx="127.50" cy="338.25" r="7.05" fill="#f5f1f1"/>
<text transform="translate(127.50 339.45) rotate(0.2) scale(0.0251 0.0350)" text-rendering="geometricPrecision" font-size="100" text-anchor="middle" fill="#151112">TYK2</text>
<circle cx="86.25" cy="355.30" r="10.6" fill="#9fc593"/>
<circle cx="86.25" cy="355.30" r="7.05" fill="#8599c9"/>
<text transform="translate(86.25 356.50) rotate(0.2) scale(0.0251 0.0350)" text-rendering="geometricPrecision" font-size="100" text-anchor="middle" fill="#151112">IFNAR1</text>
<circle cx="107.20" cy="362.20" r="10.6" fill="#9fc593"/>
<circle cx="107.20" cy="362.20" r="7.05" fill="#e9c2ba"/>
<text transform="translate(107.20 363.40) rotate(0.2) scale(0.0251 0.0350)" text-rendering="geometricPrecision" font-size="100" text-anchor="middle" fill="#151112">STAT5</text>
<circle cx="127.50" cy="361.50" r="10.6" fill="#9fc593"/>
<circle cx="127.50" cy="361.50" r="7.05" fill="#f6f0f0"/>
<text transform="translate(127.50 362.70) rotate(0.2) scale(0.0251 0.0350)" text-rendering="geometricPrecision" font-size="100" text-anchor="middle" fill="#151112">JAK1</text>
<circle cx="173.75" cy="260.75" r="10.6" fill="#9fc593"/>
<circle cx="173.75" cy="260.75" r="7.05" fill="#f3f0f0"/>
<text transform="translate(173.75 261.95) rotate(0.2) scale(0.0251 0.0350)" text-rendering="geometricPrecision" font-size="100" text-anchor="middle" fill="#151112">STAM</text>
<circle cx="143.00" cy="289.25" r="10.6" fill="#9fc593"/>
<circle cx="143.00" cy="289.25" r="7.05" fill="#e9c9c1"/>
<text transform="translate(143.00 290.45) rotate(0.2) scale(0.0251 0.0350)" text-rendering="geometricPrecision" font-size="100" text-anchor="middle" fill="#151112">IL21R</text>
<circle cx="177.00" cy="302.50" r="10.6" fill="#9fc593"/>
<circle cx="177.00" cy="302.50" r="7.05" fill="#e1b1a9"/>
<text transform="translate(177.00 303.70) rotate(0.2) scale(0.0251 0.0350)" text-rendering="geometricPrecision" font-size="100" text-anchor="middle" fill="#151112">IL12RB1</text>
<circle cx="155.00" cy="318.00" r="10.6" fill="#9fc593"/>
<circle cx="155.00" cy="318.00" r="7.05" fill="#d98a82"/>
<text transform="translate(155.00 319.20) rotate(0.2) scale(0.0251 0.0350)" text-rendering="geometricPrecision" font-size="100" text-anchor="middle" fill="#151112">IL2RA</text>
<circle cx="180.75" cy="325.50" r="10.6" fill="#9fc593"/>
<circle cx="180.75" cy="325.50" r="7.05" fill="#f5f2f2"/>
<text transform="translate(180.75 326.70) rotate(0.2) scale(0.0251 0.0350)" text-rendering="geometricPrecision" font-size="100" text-anchor="middle" fill="#151112">IL7R</text>
<circle cx="144.50" cy="340.00" r="10.6" fill="#9fc593"/>
<circle cx="144.50" cy="340.00" r="7.05" fill="#f3efef"/>
<text transform="translate(144.50 341.20) rotate(0.2) scale(0.0251 0.0350)" text-rendering="geometricPrecision" font-size="100" text-anchor="middle" fill="#151112">STAT5A</text>
<circle cx="164.50" cy="340.00" r="10.6" fill="#9fc593"/>
<circle cx="164.50" cy="340.00" r="7.05" fill="#c97a6a"/>
<text transform="translate(164.50 341.20) rotate(0.2) scale(0.0251 0.0350)" text-rendering="geometricPrecision" font-size="100" text-anchor="middle" fill="#151112">SOCS1</text>
<circle cx="191.75" cy="338.25" r="10.6" fill="#9fc593"/>
<circle cx="191.75" cy="338.25" r="7.05" fill="#e9e9f1"/>
<text transform="translate(191.75 339.45) rotate(0.2) scale(0.0251 0.0350)" text-rendering="geometricPrecision" font-size="100" text-anchor="middle" fill="#151112">PIAS1</text>
<circle cx="173.75" cy="351.25" r="7.5" fill="#e18a82"/>
<text transform="translate(173.75 352.45) rotate(0.2) scale(0.0251 0.0350)" text-rendering="geometricPrecision" font-size="100" text-anchor="middle" fill="#151112">TNFRSF1A</text>
<circle cx="235.50" cy="343.00" r="10.6" fill="#9fc593"/>
<circle cx="235.50" cy="343.00" r="7.05" fill="#e9c5c1"/>
<text transform="translate(235.50 344.20) rotate(0.2) scale(0.0251 0.0350)" text-rendering="geometricPrecision" font-size="100" text-anchor="middle" fill="#151112">STAM2</text>
<circle cx="150.50" cy="358.75" r="10.6" fill="#9fc593"/>
<circle cx="150.50" cy="358.75" r="7.05" fill="#c9d5e5"/>
<text transform="translate(150.50 359.95) rotate(0.2) scale(0.0251 0.0350)" text-rendering="geometricPrecision" font-size="100" text-anchor="middle" fill="#151112">IL7</text>
<circle cx="187.50" cy="359.70" r="10.6" fill="#9fc593"/>
<circle cx="187.50" cy="359.70" r="7.05" fill="#91a9d1"/>
<text transform="translate(187.50 360.90) rotate(0.2) scale(0.0251 0.0350)" text-rendering="geometricPrecision" font-size="100" text-anchor="middle" fill="#151112">STAT6</text>
<circle cx="207.00" cy="356.00" r="10.6" fill="#9fc593"/>
<circle cx="207.00" cy="356.00" r="7.05" fill="#e1b1a9"/>
<text transform="translate(207.00 357.20) rotate(0.2) scale(0.0251 0.0350)" text-rendering="geometricPrecision" font-size="100" text-anchor="middle" fill="#151112">CSF2RB</text>
<circle cx="163.75" cy="364.00" r="7.5" fill="#edcdc9"/>
<text transform="translate(163.75 365.20) rotate(0.2) scale(0.0251 0.0350)" text-rendering="geometricPrecision" font-size="100" text-anchor="middle" fill="#151112">ISG15</text>
<circle cx="28.25" cy="375.50" r="10.6" fill="#9fc593"/>
<circle cx="28.25" cy="375.50" r="7.05" fill="#edd5d1"/>
<text transform="translate(28.25 376.70) rotate(0.2) scale(0.0251 0.0350)" text-rendering="geometricPrecision" font-size="100" text-anchor="middle" fill="#151112">OSMR</text>
<circle cx="85.00" cy="375.00" r="10.6" fill="#9fc593"/>
<circle cx="85.00" cy="375.00" r="7.05" fill="#f7f3f3"/>
<text transform="translate(85.00 376.20) rotate(0.2) scale(0.0251 0.0350)" text-rendering="geometricPrecision" font-size="100" text-anchor="middle" fill="#151112">STAT1</text>
<circle cx="115.75" cy="383.75" r="10.6" fill="#9fc593"/>
<circle cx="115.75" cy="383.75" r="7.05" fill="#f5efef"/>
<text transform="translate(115.75 384.95) rotate(0.2) scale(0.0251 0.0350)" text-rendering="geometricPrecision" font-size="100" text-anchor="middle" fill="#151112">PTPN6</text>
<circle cx="68.00" cy="393.75" r="10.6" fill="#9fc593"/>
<circle cx="68.00" cy="393.75" r="7.05" fill="#d5dde9"/>
<text transform="translate(68.00 394.95) rotate(0.2) scale(0.0251 0.0350)" text-rendering="geometricPrecision" font-size="100" text-anchor="middle" fill="#151112">PTPN2</text>
<circle cx="96.25" cy="393.00" r="10.6" fill="#9fc593"/>
<circle cx="96.25" cy="393.00" r="7.05" fill="#a1b5d9"/>
<text transform="translate(96.25 394.20) rotate(0.2) scale(0.0251 0.0350)" text-rendering="geometricPrecision" font-size="100" text-anchor="middle" fill="#151112">PIK3R1</text>
<circle cx="129.50" cy="396.75" r="10.6" fill="#9fc593"/>
<circle cx="129.50" cy="396.75" r="7.05" fill="#e9ebf1"/>
<text transform="translate(129.50 397.95) rotate(0.2) scale(0.0251 0.0350)" text-rendering="geometricPrecision" font-size="100" text-anchor="middle" fill="#151112">SOCS3</text>
<circle cx="38.25" cy="410.50" r="10.6" fill="#9fc593"/>
<circle cx="38.25" cy="410.50" r="7.05" fill="#d5dde9"/>
<text transform="translate(38.25 411.70) rotate(0.2) scale(0.0251 0.0350)" text-rendering="geometricPrecision" font-size="100" text-anchor="middle" fill="#151112">IFNAR2</text>
<circle cx="75.00" cy="411.25" r="10.6" fill="#9fc593"/>
<circle cx="75.00" cy="411.25" r="7.05" fill="#e9c9c5"/>
<text transform="translate(75.00 412.45) rotate(0.2) scale(0.0251 0.0350)" text-rendering="geometricPrecision" font-size="100" text-anchor="middle" fill="#151112">GRB2</text>
<circle cx="104.50" cy="413.75" r="10.6" fill="#9fc593"/>
<circle cx="104.50" cy="413.75" r="7.05" fill="#c5d1e5"/>
<text transform="translate(104.50 414.95) rotate(0.2) scale(0.0251 0.0350)" text-rendering="geometricPrecision" font-size="100" text-anchor="middle" fill="#151112">IL10RA</text>
<circle cx="127.30" cy="427.00" r="10.6" fill="#9fc593"/>
<circle cx="127.30" cy="427.00" r="7.05" fill="#e9c9c5"/>
<text transform="translate(127.30 428.20) rotate(0.2) scale(0.0251 0.0350)" text-rendering="geometricPrecision" font-size="100" text-anchor="middle" fill="#151112">IL6ST</text>
<circle cx="107.50" cy="443.75" r="10.6" fill="#9fc593"/>
<circle cx="107.50" cy="443.75" r="7.05" fill="#f1e5e5"/>
<text transform="translate(107.50 444.95) rotate(0.2) scale(0.0251 0.0350)" text-rendering="geometricPrecision" font-size="100" text-anchor="middle" fill="#151112">PDGFRA</text>
<circle cx="120.00" cy="456.20" r="7.5" fill="#d99989"/>
<text transform="translate(120.00 457.40) rotate(0.2) scale(0.0251 0.0350)" text-rendering="geometricPrecision" font-size="100" text-anchor="middle" fill="#151112">PRKCZ</text>
<circle cx="142.00" cy="378.00" r="10.6" fill="#9fc593"/>
<circle cx="142.00" cy="378.00" r="7.05" fill="#edd5d1"/>
<text transform="translate(142.00 379.20) rotate(0.2) scale(0.0251 0.0350)" text-rendering="geometricPrecision" font-size="100" text-anchor="middle" fill="#151112">IL6</text>
<circle cx="172.50" cy="378.75" r="10.6" fill="#9fc593"/>
<circle cx="172.50" cy="378.75" r="7.05" fill="#e9e9f1"/>
<text transform="translate(172.50 379.95) rotate(0.2) scale(0.0251 0.0350)" text-rendering="geometricPrecision" font-size="100" text-anchor="middle" fill="#151112">IL4R</text>
<circle cx="189.50" cy="375.00" r="7.5" fill="#edc9c1"/>
<text transform="translate(189.50 376.20) rotate(0.2) scale(0.0251 0.0350)" text-rendering="geometricPrecision" font-size="100" text-anchor="middle" fill="#151112">PTPN1</text>
<circle cx="207.00" cy="379.25" r="10.6" fill="#9fc593"/>
<circle cx="207.00" cy="379.25" r="7.05" fill="#f1f1f5"/>
<text transform="translate(207.00 380.45) rotate(0.2) scale(0.0251 0.0350)" text-rendering="geometricPrecision" font-size="100" text-anchor="middle" fill="#151112">STAT5B</text>
<circle cx="159.50" cy="388.75" r="10.6" fill="#9fc593"/>
<circle cx="159.50" cy="388.75" r="7.05" fill="#8999c9"/>
<text transform="translate(159.50 389.95) rotate(0.2) scale(0.0251 0.0350)" text-rendering="geometricPrecision" font-size="100" text-anchor="middle" fill="#151112">PTPN11</text>
<circle cx="190.00" cy="393.75" r="10.6" fill="#9fc593"/>
<circle cx="190.00" cy="393.75" r="7.05" fill="#d99181"/>
<text transform="translate(190.00 394.95) rotate(0.2) scale(0.0251 0.0350)" text-rendering="geometricPrecision" font-size="100" text-anchor="middle" fill="#151112">CD4</text>
<circle cx="210.50" cy="401.25" r="7.5" fill="#ddada1"/>
<text transform="translate(210.50 402.45) rotate(0.2) scale(0.0251 0.0350)" text-rendering="geometricPrecision" font-size="100" text-anchor="middle" fill="#151112">PTK2B</text>
<circle cx="148.75" cy="404.50" r="10.6" fill="#9fc593"/>
<circle cx="148.75" cy="404.50" r="7.05" fill="#e5e7ef"/>
<text transform="translate(148.75 405.70) rotate(0.2) scale(0.0251 0.0350)" text-rendering="geometricPrecision" font-size="100" text-anchor="middle" fill="#151112">IL2RB</text>
<circle cx="168.25" cy="411.25" r="10.6" fill="#9fc593"/>
<circle cx="168.25" cy="411.25" r="7.05" fill="#f7f3f3"/>
<text transform="translate(168.25 412.45) rotate(0.2) scale(0.0251 0.0350)" text-rendering="geometricPrecision" font-size="100" text-anchor="middle" fill="#151112">SOCS5</text>
<circle cx="196.75" cy="419.50" r="10.6" fill="#9fc593"/>
<circle cx="196.75" cy="419.50" r="7.05" fill="#f5f0f0"/>
<text transform="translate(196.75 420.70) rotate(0.2) scale(0.0251 0.0350)" text-rendering="geometricPrecision" font-size="100" text-anchor="middle" fill="#151112">PIAS3</text>
<circle cx="151.75" cy="428.00" r="7.5" fill="#99b1d9"/>
<text transform="translate(151.75 429.20) rotate(0.2) scale(0.0251 0.0350)" text-rendering="geometricPrecision" font-size="100" text-anchor="middle" fill="#151112">FES</text>
<circle cx="172.50" cy="432.00" r="10.6" fill="#9fc593"/>
<circle cx="172.50" cy="432.00" r="7.05" fill="#f5f1f1"/>
<text transform="translate(172.50 433.20) rotate(0.2) scale(0.0251 0.0350)" text-rendering="geometricPrecision" font-size="100" text-anchor="middle" fill="#151112">IRF9</text>
<circle cx="160.75" cy="453.75" r="10.6" fill="#9fc593"/>
<circle cx="160.75" cy="453.75" r="7.05" fill="#8199c9"/>
<text transform="translate(160.75 454.95) rotate(0.2) scale(0.0251 0.0350)" text-rendering="geometricPrecision" font-size="100" text-anchor="middle" fill="#151112">GHR</text>
</g>
<g id="panelD">
<text transform="translate(7.63 494.75) scale(1.084 1)" font-size="13.7" fill="#1c1819">D</text>
<path d="M241.0 574.8L185.6 625.3M241.0 574.8L222.5 563.7M241.0 574.8L231.4 599.4M241.0 574.8L203.0 570.0M241.0 574.8L172.8 611.5M241.0 574.8L137.8 654.7M241.0 574.8L147.7 589.0M241.0 574.8L152.7 611.5M241.0 574.8L165.2 596.6M241.0 574.8L156.0 643.7M241.0 574.8L183.7 583.7M241.0 574.8L203.0 592.5M241.0 574.8L247.7 553.8M151.4 505.2L150.8 537.5M151.4 505.2L193.8 501.5M151.4 505.2L131.6 541.8M151.4 505.2L148.3 567.7M219.0 619.4L185.6 625.3M219.0 619.4L175.2 638.5M219.0 619.4L203.0 570.0M219.0 619.4L172.8 611.5M219.0 619.4L137.8 654.7M219.0 619.4L147.7 589.0M219.0 619.4L146.8 627.0M219.0 619.4L152.7 611.5M219.0 619.4L165.2 596.6M219.0 619.4L183.7 583.7M219.0 619.4L203.0 592.5M219.0 619.4L195.3 613.5M150.8 537.5L207.7 551.4M150.8 537.5L222.5 563.7M150.8 537.5L173.8 537.5M150.8 537.5L166.0 577.8M150.8 537.5L172.8 611.5M150.8 537.5L188.3 561.5M150.8 537.5L197.0 535.4M150.8 537.5L147.7 589.0M150.8 537.5L152.7 611.5M150.8 537.5L165.2 596.6M150.8 537.5L156.0 643.7M150.8 537.5L183.7 583.7M150.8 537.5L203.0 592.5M150.8 537.5L148.3 567.7M150.8 537.5L115.6 557.6M193.8 501.5L150.8 537.5M193.8 501.5L173.8 537.5M193.8 501.5L166.0 577.8M193.8 501.5L197.0 535.4M193.8 501.5L130.0 580.9M193.8 501.5L147.7 589.0M193.8 501.5L148.3 567.7M193.8 501.5L132.5 604.6M207.7 551.4L185.6 625.3M207.7 551.4L222.5 563.7M207.7 551.4L166.0 577.8M207.7 551.4L203.0 570.0M207.7 551.4L188.3 561.5M207.7 551.4L146.8 627.0M207.7 551.4L109.4 615.0M207.7 551.4L165.2 596.6M207.7 551.4L183.7 583.7M207.7 551.4L203.0 592.5M207.7 551.4L148.3 567.7M207.7 551.4L195.3 613.5M185.6 625.3L175.2 638.5M185.6 625.3L137.8 654.7M185.6 625.3L156.0 643.7M131.6 541.8L150.8 537.5M131.6 541.8L207.7 551.4M131.6 541.8L222.5 563.7M131.6 541.8L173.8 537.5M131.6 541.8L166.0 577.8M131.6 541.8L203.0 570.0M131.6 541.8L172.8 611.5M131.6 541.8L137.8 654.7M131.6 541.8L188.3 561.5M131.6 541.8L197.0 535.4M131.6 541.8L147.7 589.0M131.6 541.8L109.4 615.0M131.6 541.8L152.7 611.5M131.6 541.8L165.2 596.6M131.6 541.8L183.7 583.7M131.6 541.8L203.0 592.5M131.6 541.8L148.3 567.7M131.6 541.8L132.5 604.6M131.6 541.8L195.3 613.5M131.6 541.8L115.6 557.6M222.5 563.7L185.6 625.3M222.5 563.7L203.0 570.0M222.5 563.7L172.8 611.5M222.5 563.7L137.8 654.7M222.5 563.7L109.4 615.0M222.5 563.7L165.2 596.6M222.5 563.7L156.0 643.7M222.5 563.7L203.0 592.5M222.5 563.7L195.3 613.5M222.5 563.7L115.6 557.6M173.8 537.5L222.5 563.7M173.8 537.5L175.2 638.5M173.8 537.5L166.0 577.8M173.8 537.5L203.0 570.0M173.8 537.5L172.8 611.5M173.8 537.5L137.8 654.7M173.8 537.5L188.3 561.5M173.8 537.5L147.7 589.0M173.8 537.5L152.7 611.5M173.8 537.5L156.0 643.7M173.8 537.5L183.7 583.7M173.8 537.5L203.0 592.5M173.8 537.5L148.3 567.7M173.8 537.5L195.3 613.5M173.8 537.5L115.6 557.6M98.0 652.3L222.5 563.7M98.0 652.3L137.8 654.7M98.0 652.3L146.8 627.0M98.0 652.3L109.4 615.0M98.0 652.3L152.7 611.5M98.0 652.3L156.0 643.7M98.0 652.3L203.0 592.5M98.0 652.3L132.5 604.6M231.4 599.4L131.6 541.8M231.4 599.4L222.5 563.7M231.4 599.4L173.8 537.5M231.4 599.4L166.0 577.8M231.4 599.4L230.6 653.3M231.4 599.4L203.0 570.0M231.4 599.4L172.8 611.5M231.4 599.4L197.0 650.6M231.4 599.4L183.7 583.7M231.4 599.4L203.0 592.5M231.4 599.4L195.3 613.5M65.0 573.0L48.0 593.8M65.0 573.0L175.2 638.5M65.0 573.0L147.7 589.0M65.0 573.0L146.8 627.0M65.0 573.0L109.4 615.0M65.0 573.0L152.7 611.5M65.0 573.0L165.2 596.6M65.0 573.0L156.0 643.7M65.0 573.0L132.5 604.6M65.0 573.0L115.6 557.6M48.0 593.8L147.7 589.0M48.0 593.8L146.8 627.0M48.0 593.8L109.4 615.0M48.0 593.8L152.7 611.5M48.0 593.8L108.2 576.2M48.0 593.8L115.6 557.6M28.0 570.0L65.0 573.0M28.0 570.0L48.0 593.8M28.0 570.0L147.7 589.0M28.0 570.0L146.8 627.0M28.0 570.0L109.4 615.0M28.0 570.0L152.7 611.5M28.0 570.0L108.2 576.2M28.0 570.0L115.6 557.6M50.5 551.8L65.0 573.0M50.5 551.8L48.0 593.8M50.5 551.8L28.0 570.0M50.5 551.8L131.8 559.0M50.5 551.8L115.6 557.6M99.0 634.0L98.0 652.3M99.0 634.0L175.2 638.5M99.0 634.0L137.8 654.7M99.0 634.0L114.0 644.3M99.0 634.0L146.8 627.0M99.0 634.0L109.4 615.0M99.0 634.0L152.7 611.5M99.0 634.0L156.0 643.7M99.0 634.0L183.7 583.7M99.0 634.0L203.0 592.5M99.0 634.0L108.2 576.2M99.0 634.0L132.5 604.6M165.8 668.6L185.6 625.3M165.8 668.6L132.6 678.3M165.8 668.6L175.2 638.5M165.8 668.6L172.8 611.5M165.8 668.6L137.8 654.7M165.8 668.6L146.8 627.0M165.8 668.6L152.7 611.5M165.8 668.6L155.0 691.0M165.8 668.6L156.0 643.7M165.8 668.6L183.7 583.7M165.8 668.6L100.0 675.5M165.8 668.6L123.3 704.2M132.6 678.3L185.6 625.3M132.6 678.3L175.2 638.5M132.6 678.3L137.8 654.7M132.6 678.3L146.8 627.0M132.6 678.3L152.7 611.5M132.6 678.3L155.0 691.0M132.6 678.3L156.0 643.7M132.6 678.3L183.7 583.7M132.6 678.3L123.3 704.2M175.2 638.5L137.8 654.7M175.2 638.5L156.0 643.7M175.2 638.5L115.6 557.6M166.0 577.8L185.6 625.3M166.0 577.8L175.2 638.5M166.0 577.8L172.8 611.5M166.0 577.8L147.7 589.0M166.0 577.8L146.8 627.0M166.0 577.8L109.4 615.0M166.0 577.8L152.7 611.5M166.0 577.8L165.2 596.6M166.0 577.8L156.0 643.7M166.0 577.8L183.7 583.7M166.0 577.8L203.0 592.5M166.0 577.8L195.3 613.5M166.0 577.8L115.6 557.6M230.6 653.3L219.0 619.4M230.6 653.3L185.6 625.3M230.6 653.3L131.6 541.8M230.6 653.3L222.5 563.7M230.6 653.3L173.8 537.5M230.6 653.3L175.2 638.5M230.6 653.3L166.0 577.8M230.6 653.3L203.0 570.0M230.6 653.3L172.8 611.5M230.6 653.3L131.8 559.0M230.6 653.3L197.0 650.6M230.6 653.3L137.8 654.7M230.6 653.3L152.7 611.5M230.6 653.3L156.0 643.7M230.6 653.3L183.7 583.7M230.6 653.3L203.0 592.5M230.6 653.3L195.3 613.5M203.0 570.0L185.6 625.3M203.0 570.0L175.2 638.5M203.0 570.0L166.0 577.8M203.0 570.0L172.8 611.5M203.0 570.0L146.8 627.0M203.0 570.0L109.4 615.0M203.0 570.0L152.7 611.5M203.0 570.0L165.2 596.6M203.0 570.0L203.0 592.5M203.0 570.0L195.3 613.5M172.8 611.5L185.6 625.3M172.8 611.5L175.2 638.5M172.8 611.5L137.8 654.7M172.8 611.5L146.8 627.0M172.8 611.5L109.4 615.0M172.8 611.5L156.0 643.7M172.8 611.5L195.3 613.5M131.8 559.0L150.8 537.5M131.8 559.0L207.7 551.4M131.8 559.0L222.5 563.7M131.8 559.0L173.8 537.5M131.8 559.0L175.2 638.5M131.8 559.0L166.0 577.8M131.8 559.0L203.0 570.0M131.8 559.0L172.8 611.5M131.8 559.0L137.8 654.7M131.8 559.0L188.3 561.5M131.8 559.0L197.0 535.4M131.8 559.0L130.0 580.9M131.8 559.0L147.7 589.0M131.8 559.0L146.8 627.0M131.8 559.0L109.4 615.0M131.8 559.0L152.7 611.5M131.8 559.0L165.2 596.6M131.8 559.0L156.0 643.7M131.8 559.0L183.7 583.7M131.8 559.0L203.0 592.5M131.8 559.0L148.3 567.7M131.8 559.0L108.2 576.2M131.8 559.0L132.5 604.6M131.8 559.0L195.3 613.5M131.8 559.0L115.6 557.6M197.0 650.6L185.6 625.3M197.0 650.6L131.6 541.8M197.0 650.6L165.8 668.6M197.0 650.6L175.2 638.5M197.0 650.6L166.0 577.8M197.0 650.6L203.0 570.0M197.0 650.6L172.8 611.5M197.0 650.6L137.8 654.7M197.0 650.6L130.0 580.9M197.0 650.6L152.7 611.5M197.0 650.6L156.0 643.7M197.0 650.6L183.7 583.7M197.0 650.6L203.0 592.5M197.0 650.6L195.3 613.5M188.3 561.5L185.6 625.3M188.3 561.5L222.5 563.7M188.3 561.5L175.2 638.5M188.3 561.5L166.0 577.8M188.3 561.5L203.0 570.0M188.3 561.5L172.8 611.5M188.3 561.5L147.7 589.0M188.3 561.5L152.7 611.5M188.3 561.5L156.0 643.7M188.3 561.5L183.7 583.7M188.3 561.5L203.0 592.5M188.3 561.5L148.3 567.7M188.3 561.5L195.3 613.5M188.3 561.5L115.6 557.6M197.0 535.4L207.7 551.4M197.0 535.4L185.6 625.3M197.0 535.4L222.5 563.7M197.0 535.4L175.2 638.5M197.0 535.4L166.0 577.8M197.0 535.4L203.0 570.0M197.0 535.4L172.8 611.5M197.0 535.4L137.8 654.7M197.0 535.4L147.7 589.0M197.0 535.4L165.2 596.6M197.0 535.4L156.0 643.7M197.0 535.4L183.7 583.7M197.0 535.4L148.3 567.7M130.0 580.9L150.8 537.5M130.0 580.9L207.7 551.4M130.0 580.9L185.6 625.3M130.0 580.9L173.8 537.5M130.0 580.9L175.2 638.5M130.0 580.9L166.0 577.8M130.0 580.9L203.0 570.0M130.0 580.9L172.8 611.5M130.0 580.9L137.8 654.7M130.0 580.9L188.3 561.5M130.0 580.9L197.0 535.4M130.0 580.9L147.7 589.0M130.0 580.9L109.4 615.0M130.0 580.9L152.7 611.5M130.0 580.9L165.2 596.6M130.0 580.9L183.7 583.7M130.0 580.9L203.0 592.5M130.0 580.9L115.6 557.6M114.0 644.3L98.0 652.3M114.0 644.3L203.0 570.0M114.0 644.3L172.8 611.5M114.0 644.3L137.8 654.7M114.0 644.3L147.7 589.0M114.0 644.3L146.8 627.0M114.0 644.3L109.4 615.0M114.0 644.3L152.7 611.5M114.0 644.3L156.0 643.7M114.0 644.3L203.0 592.5M114.0 644.3L132.5 604.6M147.7 589.0L185.6 625.3M147.7 589.0L175.2 638.5M147.7 589.0L172.8 611.5M147.7 589.0L109.4 615.0M147.7 589.0L152.7 611.5M147.7 589.0L165.2 596.6M147.7 589.0L156.0 643.7M146.8 627.0L175.2 638.5M146.8 627.0L137.8 654.7M146.8 627.0L156.0 643.7M109.4 615.0L185.6 625.3M109.4 615.0L175.2 638.5M109.4 615.0L137.8 654.7M109.4 615.0L146.8 627.0M109.4 615.0L156.0 643.7M109.4 615.0L115.6 557.6M152.7 611.5L175.2 638.5M152.7 611.5L172.8 611.5M152.7 611.5L137.8 654.7M152.7 611.5L146.8 627.0M152.7 611.5L109.4 615.0M152.7 611.5L156.0 643.7M152.7 611.5L195.3 613.5M152.7 611.5L115.6 557.6M165.2 596.6L185.6 625.3M165.2 596.6L175.2 638.5M165.2 596.6L172.8 611.5M165.2 596.6L137.8 654.7M165.2 596.6L146.8 627.0M165.2 596.6L109.4 615.0M165.2 596.6L156.0 643.7M165.2 596.6L115.6 557.6M155.0 691.0L185.6 625.3M155.0 691.0L175.2 638.5M155.0 691.0L172.8 611.5M155.0 691.0L137.8 654.7M155.0 691.0L146.8 627.0M155.0 691.0L152.7 611.5M155.0 691.0L156.0 643.7M155.0 691.0L183.7 583.7M155.0 691.0L123.3 704.2M156.0 643.7L137.8 654.7M183.7 583.7L185.6 625.3M183.7 583.7L175.2 638.5M183.7 583.7L172.8 611.5M183.7 583.7L147.7 589.0M183.7 583.7L146.8 627.0M183.7 583.7L152.7 611.5M183.7 583.7L165.2 596.6M183.7 583.7L156.0 643.7M183.7 583.7L203.0 592.5M183.7 583.7L195.3 613.5M183.7 583.7L115.6 557.6M100.0 675.5L132.6 678.3M100.0 675.5L175.2 638.5M100.0 675.5L137.8 654.7M100.0 675.5L155.0 691.0M100.0 675.5L156.0 643.7M100.0 675.5L123.3 704.2M203.0 592.5L185.6 625.3M203.0 592.5L175.2 638.5M203.0 592.5L172.8 611.5M203.0 592.5L137.8 654.7M203.0 592.5L152.7 611.5M203.0 592.5L165.2 596.6M203.0 592.5L156.0 643.7M203.0 592.5L195.3 613.5M148.3 567.7L185.6 625.3M148.3 567.7L166.0 577.8M148.3 567.7L203.0 570.0M148.3 567.7L172.8 611.5M148.3 567.7L147.7 589.0M148.3 567.7L146.8 627.0M148.3 567.7L109.4 615.0M148.3 567.7L152.7 611.5M148.3 567.7L165.2 596.6M148.3 567.7L156.0 643.7M148.3 567.7L183.7 583.7M148.3 567.7L203.0 592.5M148.3 567.7L195.3 613.5M148.3 567.7L115.6 557.6M108.2 576.2L150.8 537.5M108.2 576.2L173.8 537.5M108.2 576.2L172.8 611.5M108.2 576.2L188.3 561.5M108.2 576.2L130.0 580.9M108.2 576.2L152.7 611.5M108.2 576.2L165.2 596.6M108.2 576.2L183.7 583.7M108.2 576.2L203.0 592.5M108.2 576.2L132.5 604.6M108.2 576.2L115.6 557.6M247.7 553.8L150.8 537.5M247.7 553.8L207.7 551.4M247.7 553.8L222.5 563.7M247.7 553.8L173.8 537.5M247.7 553.8L231.4 599.4M247.7 553.8L166.0 577.8M247.7 553.8L203.0 570.0M247.7 553.8L172.8 611.5M247.7 553.8L188.3 561.5M247.7 553.8L197.0 535.4M247.7 553.8L147.7 589.0M247.7 553.8L165.2 596.6M247.7 553.8L203.0 592.5M247.7 553.8L108.2 576.2M247.7 553.8L132.5 604.6M119.3 523.0L150.8 537.5M119.3 523.0L131.6 541.8M119.3 523.0L166.0 577.8M119.3 523.0L131.8 559.0M119.3 523.0L130.0 580.9M119.3 523.0L147.7 589.0M119.3 523.0L146.8 627.0M119.3 523.0L152.7 611.5M119.3 523.0L165.2 596.6M119.3 523.0L148.3 567.7M119.3 523.0L108.2 576.2M119.3 523.0L132.5 604.6M119.3 523.0L115.6 557.6M132.5 604.6L150.8 537.5M132.5 604.6L207.7 551.4M132.5 604.6L185.6 625.3M132.5 604.6L222.5 563.7M132.5 604.6L173.8 537.5M132.5 604.6L175.2 638.5M132.5 604.6L166.0 577.8M132.5 604.6L203.0 570.0M132.5 604.6L172.8 611.5M132.5 604.6L137.8 654.7M132.5 604.6L188.3 561.5M132.5 604.6L147.7 589.0M132.5 604.6L146.8 627.0M132.5 604.6L152.7 611.5M132.5 604.6L165.2 596.6M132.5 604.6L156.0 643.7M132.5 604.6L183.7 583.7M132.5 604.6L203.0 592.5M132.5 604.6L148.3 567.7M132.5 604.6L195.3 613.5M132.5 604.6L115.6 557.6M195.3 613.5L175.2 638.5M195.3 613.5L137.8 654.7M195.3 613.5L146.8 627.0M195.3 613.5L109.4 615.0M195.3 613.5L156.0 643.7M123.3 704.2L185.6 625.3M123.3 704.2L175.2 638.5M123.3 704.2L172.8 611.5M123.3 704.2L137.8 654.7M123.3 704.2L147.7 589.0M123.3 704.2L146.8 627.0M123.3 704.2L152.7 611.5M123.3 704.2L165.2 596.6M123.3 704.2L156.0 643.7M123.3 704.2L183.7 583.7" stroke="#111" stroke-width="0.9" fill="none" stroke-linecap="round"/>
<circle cx="119.30" cy="523.00" r="6.9" fill="#7fa5d5"/>
<text transform="translate(119.30 523.86) rotate(0.2) scale(0.0272 0.0250)" text-rendering="geometricPrecision" font-size="100" text-anchor="middle" fill="#151112">TRAF1</text>
<circle cx="131.60" cy="541.80" r="6.9" fill="#6b99cd"/>
<text transform="translate(131.60 542.66) rotate(0.2) scale(0.0272 0.0250)" text-rendering="geometricPrecision" font-size="100" text-anchor="middle" fill="#151112">CD4</text>
<circle cx="50.50" cy="551.75" r="6.9" fill="#e5bdb5"/>
<text transform="translate(50.50 552.61) rotate(0.2) scale(0.0272 0.0250)" text-rendering="geometricPrecision" font-size="100" text-anchor="middle" fill="#151112">COMMD6</text>
<circle cx="115.60" cy="557.60" r="6.9" fill="#f5efef"/>
<text transform="translate(115.60 558.46) rotate(0.2) scale(0.0272 0.0250)" text-rendering="geometricPrecision" font-size="100" text-anchor="middle" fill="#151112">UBE2D1</text>
<circle cx="131.75" cy="559.00" r="6.9" fill="#f3e3e1"/>
<text transform="translate(131.75 559.86) rotate(0.2) scale(0.0272 0.0250)" text-rendering="geometricPrecision" font-size="100" text-anchor="middle" fill="#151112">IRF1</text>
<circle cx="28.00" cy="570.00" r="6.9" fill="#f3eded"/>
<text transform="translate(28.00 570.86) rotate(0.2) scale(0.0272 0.0250)" text-rendering="geometricPrecision" font-size="100" text-anchor="middle" fill="#151112">COMMD4</text>
<circle cx="65.00" cy="573.00" r="6.9" fill="#f1edef"/>
<text transform="translate(65.00 573.86) rotate(0.2) scale(0.0272 0.0250)" text-rendering="geometricPrecision" font-size="100" text-anchor="middle" fill="#151112">COMMD1</text>
<circle cx="108.25" cy="576.20" r="9.9" fill="#9fc593"/>
<circle cx="108.25" cy="576.20" r="6.7" fill="#dda9a1"/>
<text transform="translate(108.25 577.06) rotate(0.2) scale(0.0272 0.0250)" text-rendering="geometricPrecision" font-size="100" text-anchor="middle" fill="#151112">TNFRSF1A</text>
<circle cx="130.00" cy="580.90" r="9.9" fill="#9fc593"/>
<circle cx="130.00" cy="580.90" r="6.7" fill="#edd1cd"/>
<text transform="translate(130.00 581.76) rotate(0.2) scale(0.0272 0.0250)" text-rendering="geometricPrecision" font-size="100" text-anchor="middle" fill="#151112">MYD88</text>
<circle cx="48.00" cy="593.75" r="6.9" fill="#f5efef"/>
<text transform="translate(48.00 594.61) rotate(0.2) scale(0.0272 0.0250)" text-rendering="geometricPrecision" font-size="100" text-anchor="middle" fill="#151112">COMMD10</text>
<circle cx="132.50" cy="604.60" r="9.9" fill="#9fc593"/>
<circle cx="132.50" cy="604.60" r="6.7" fill="#e9c5bd"/>
<text transform="translate(132.50 605.46) rotate(0.2) scale(0.0272 0.0250)" text-rendering="geometricPrecision" font-size="100" text-anchor="middle" fill="#151112">TRAF2</text>
<circle cx="151.40" cy="505.20" r="6.9" fill="#dde5ed"/>
<text transform="translate(151.40 506.06) rotate(0.2) scale(0.0272 0.0250)" text-rendering="geometricPrecision" font-size="100" text-anchor="middle" fill="#151112">ARHGEF7</text>
<circle cx="193.80" cy="501.50" r="6.9" fill="#b5c9e5"/>
<text transform="translate(193.80 502.36) rotate(0.2) scale(0.0272 0.0250)" text-rendering="geometricPrecision" font-size="100" text-anchor="middle" fill="#151112">BIRC3</text>
<circle cx="150.80" cy="537.50" r="9.9" fill="#9fc593"/>
<circle cx="150.80" cy="537.50" r="6.7" fill="#e9c9c1"/>
<text transform="translate(150.80 538.36) rotate(0.2) scale(0.0272 0.0250)" text-rendering="geometricPrecision" font-size="100" text-anchor="middle" fill="#151112">BIRC2</text>
<circle cx="173.80" cy="537.50" r="9.9" fill="#9fc593"/>
<circle cx="173.80" cy="537.50" r="6.7" fill="#cd7d6d"/>
<text transform="translate(173.80 538.36) rotate(0.2) scale(0.0272 0.0250)" text-rendering="geometricPrecision" font-size="100" text-anchor="middle" fill="#151112">CD40LG</text>
<circle cx="197.00" cy="535.40" r="9.9" fill="#9fc593"/>
<circle cx="197.00" cy="535.40" r="6.7" fill="#f7f1ef"/>
<text transform="translate(197.00 536.26) rotate(0.2) scale(0.0272 0.0250)" text-rendering="geometricPrecision" font-size="100" text-anchor="middle" fill="#151112">MAP3K14</text>
<circle cx="207.70" cy="551.40" r="9.9" fill="#9fc593"/>
<circle cx="207.70" cy="551.40" r="6.7" fill="#e1e7ef"/>
<text transform="translate(207.70 552.26) rotate(0.2) scale(0.0272 0.0250)" text-rendering="geometricPrecision" font-size="100" text-anchor="middle" fill="#151112">BIRC5</text>
<circle cx="247.70" cy="553.80" r="9.9" fill="#9fc593"/>
<circle cx="247.70" cy="553.80" r="6.7" fill="#7da1d1"/>
<text transform="translate(247.70 554.66) rotate(0.2) scale(0.0272 0.0250)" text-rendering="geometricPrecision" font-size="100" text-anchor="middle" fill="#151112">TNFSF13B</text>
<circle cx="188.30" cy="561.50" r="9.9" fill="#9fc593"/>
<circle cx="188.30" cy="561.50" r="6.7" fill="#f3e5e3"/>
<text transform="translate(188.30 562.36) rotate(0.2) scale(0.0272 0.0250)" text-rendering="geometricPrecision" font-size="100" text-anchor="middle" fill="#151112">LTBR</text>
<circle cx="222.50" cy="563.70" r="9.9" fill="#9fc593"/>
<circle cx="222.50" cy="563.70" r="6.7" fill="#f5e9e7"/>
<text transform="translate(222.50 564.56) rotate(0.2) scale(0.0272 0.0250)" text-rendering="geometricPrecision" font-size="100" text-anchor="middle" fill="#151112">CD40</text>
<circle cx="148.30" cy="567.70" r="9.9" fill="#9fc593"/>
<circle cx="148.30" cy="567.70" r="6.7" fill="#8b9dd1"/>
<text transform="translate(148.30 568.56) rotate(0.2) scale(0.0272 0.0250)" text-rendering="geometricPrecision" font-size="100" text-anchor="middle" fill="#151112">TNFAIP3</text>
<circle cx="203.00" cy="570.00" r="9.9" fill="#9fc593"/>
<circle cx="203.00" cy="570.00" r="6.7" fill="#89a5d9"/>
<text transform="translate(203.00 570.86) rotate(0.2) scale(0.0272 0.0250)" text-rendering="geometricPrecision" font-size="100" text-anchor="middle" fill="#151112">IL1B</text>
<circle cx="241.00" cy="574.80" r="6.9" fill="#f1ddd9"/>
<text transform="translate(241.00 575.66) rotate(0.2) scale(0.0272 0.0250)" text-rendering="geometricPrecision" font-size="100" text-anchor="middle" fill="#151112">AHR</text>
<circle cx="166.00" cy="577.80" r="9.9" fill="#9fc593"/>
<circle cx="166.00" cy="577.80" r="6.7" fill="#dee6f1"/>
<text transform="translate(166.00 578.66) rotate(0.2) scale(0.0272 0.0250)" text-rendering="geometricPrecision" font-size="100" text-anchor="middle" fill="#151112">ICAM1</text>
<circle cx="183.70" cy="583.70" r="6.9" fill="#f7f1f1"/>
<text transform="translate(183.70 584.56) rotate(0.2) scale(0.0272 0.0250)" text-rendering="geometricPrecision" font-size="100" text-anchor="middle" fill="#151112">STAT1</text>
<circle cx="147.70" cy="589.00" r="9.9" fill="#9fc593"/>
<circle cx="147.70" cy="589.00" r="6.7" fill="#e5e9f1"/>
<text transform="translate(147.70 589.86) rotate(0.2) scale(0.0272 0.0250)" text-rendering="geometricPrecision" font-size="100" text-anchor="middle" fill="#151112">NFKB1</text>
<circle cx="203.00" cy="592.50" r="9.9" fill="#9fc593"/>
<circle cx="203.00" cy="592.50" r="6.7" fill="#7d99cd"/>
<text transform="translate(203.00 593.36) rotate(0.2) scale(0.0272 0.0250)" text-rendering="geometricPrecision" font-size="100" text-anchor="middle" fill="#151112">TNF</text>
<circle cx="165.20" cy="596.60" r="9.9" fill="#9fc593"/>
<circle cx="165.20" cy="596.60" r="6.7" fill="#f5f1f3"/>
<text transform="translate(165.20 597.46) rotate(0.2) scale(0.0272 0.0250)" text-rendering="geometricPrecision" font-size="100" text-anchor="middle" fill="#151112">RELB</text>
<circle cx="231.40" cy="599.40" r="6.9" fill="#cd8171"/>
<text transform="translate(231.40 600.26) rotate(0.2) scale(0.0272 0.0250)" text-rendering="geometricPrecision" font-size="100" text-anchor="middle" fill="#151112">CD86</text>
<circle cx="152.70" cy="611.50" r="9.9" fill="#9fc593"/>
<circle cx="152.70" cy="611.50" r="6.7" fill="#edd1cd"/>
<text transform="translate(152.70 612.36) rotate(0.2) scale(0.0272 0.0250)" text-rendering="geometricPrecision" font-size="100" text-anchor="middle" fill="#151112">RELA</text>
<circle cx="172.80" cy="611.50" r="6.9" fill="#7191c9"/>
<text transform="translate(172.80 612.36) rotate(0.2) scale(0.0272 0.0250)" text-rendering="geometricPrecision" font-size="100" text-anchor="middle" fill="#151112">IL6</text>
<circle cx="195.30" cy="613.50" r="6.9" fill="#f7f3f3"/>
<text transform="translate(195.30 614.36) rotate(0.2) scale(0.0272 0.0250)" text-rendering="geometricPrecision" font-size="100" text-anchor="middle" fill="#151112">TYK2</text>
<circle cx="109.40" cy="615.00" r="9.9" fill="#9fc593"/>
<circle cx="109.40" cy="615.00" r="6.7" fill="#e0e6f0"/>
<text transform="translate(109.40 615.86) rotate(0.2) scale(0.0272 0.0250)" text-rendering="geometricPrecision" font-size="100" text-anchor="middle" fill="#151112">NFKBIB</text>
<circle cx="219.00" cy="619.40" r="6.9" fill="#d0ddec"/>
<text transform="translate(219.00 620.26) rotate(0.2) scale(0.0272 0.0250)" text-rendering="geometricPrecision" font-size="100" text-anchor="middle" fill="#151112">BCL3</text>
<circle cx="185.60" cy="625.30" r="6.9" fill="#e9c5bd"/>
<text transform="translate(185.60 626.16) rotate(0.2) scale(0.0272 0.0250)" text-rendering="geometricPrecision" font-size="100" text-anchor="middle" fill="#151112">CCND1</text>
<circle cx="146.80" cy="627.00" r="9.9" fill="#9fc593"/>
<circle cx="146.80" cy="627.00" r="6.7" fill="#f3eff1"/>
<text transform="translate(146.80 627.86) rotate(0.2) scale(0.0272 0.0250)" text-rendering="geometricPrecision" font-size="100" text-anchor="middle" fill="#151112">NFKBIA</text>
<circle cx="99.00" cy="634.00" r="6.9" fill="#8db1dd"/>
<text transform="translate(99.00 634.86) rotate(0.2) scale(0.0272 0.0250)" text-rendering="geometricPrecision" font-size="100" text-anchor="middle" fill="#151112">DAXX</text>
<circle cx="175.20" cy="638.50" r="6.9" fill="#f1d5cd"/>
<text transform="translate(175.20 639.36) rotate(0.2) scale(0.0272 0.0250)" text-rendering="geometricPrecision" font-size="100" text-anchor="middle" fill="#151112">HDAC1</text>
<circle cx="114.00" cy="644.30" r="6.9" fill="#d99989"/>
<text transform="translate(114.00 645.16) rotate(0.2) scale(0.0272 0.0250)" text-rendering="geometricPrecision" font-size="100" text-anchor="middle" fill="#151112">MAP3K8</text>
<circle cx="156.00" cy="643.70" r="6.9" fill="#e5b5ad"/>
<text transform="translate(156.00 644.56) rotate(0.2) scale(0.0272 0.0250)" text-rendering="geometricPrecision" font-size="100" text-anchor="middle" fill="#151112">SRC</text>
<circle cx="197.00" cy="650.60" r="6.9" fill="#f1ddd9"/>
<text transform="translate(197.00 651.46) rotate(0.2) scale(0.0272 0.0250)" text-rendering="geometricPrecision" font-size="100" text-anchor="middle" fill="#151112">JAK2</text>
<circle cx="98.00" cy="652.30" r="6.9" fill="#e1a9a1"/>
<text transform="translate(98.00 653.16) rotate(0.2) scale(0.0272 0.0250)" text-rendering="geometricPrecision" font-size="100" text-anchor="middle" fill="#151112">CD40LG</text>
<circle cx="230.60" cy="653.30" r="6.9" fill="#d18d7d"/>
<text transform="translate(230.60 654.16) rotate(0.2) scale(0.0272 0.0250)" text-rendering="geometricPrecision" font-size="100" text-anchor="middle" fill="#151112">IL12RB1</text>
<circle cx="137.80" cy="654.70" r="6.9" fill="#e9edf3"/>
<text transform="translate(137.80 655.56) rotate(0.2) scale(0.0272 0.0250)" text-rendering="geometricPrecision" font-size="100" text-anchor="middle" fill="#151112">JUN</text>
<circle cx="165.80" cy="668.60" r="6.9" fill="#f7f3f3"/>
<text transform="translate(165.80 669.46) rotate(0.2) scale(0.0272 0.0250)" text-rendering="geometricPrecision" font-size="100" text-anchor="middle" fill="#151112">EHMT2</text>
<circle cx="100.00" cy="675.50" r="6.9" fill="#f1ddd9"/>
<text transform="translate(100.00 676.36) rotate(0.2) scale(0.0272 0.0250)" text-rendering="geometricPrecision" font-size="100" text-anchor="middle" fill="#151112">SUZ12</text>
<circle cx="132.60" cy="678.30" r="6.9" fill="#f9f5f5"/>
<text transform="translate(132.60 679.16) rotate(0.2) scale(0.0272 0.0250)" text-rendering="geometricPrecision" font-size="100" text-anchor="middle" fill="#151112">EZH2</text>
<circle cx="155.00" cy="691.00" r="6.9" fill="#f5f1f1"/>
<text transform="translate(155.00 691.86) rotate(0.2) scale(0.0272 0.0250)" text-rendering="geometricPrecision" font-size="100" text-anchor="middle" fill="#151112">SMAD4</text>
<circle cx="123.30" cy="704.20" r="6.9" fill="#e1ada5"/>
<text transform="translate(123.30 705.06) rotate(0.2) scale(0.0272 0.0250)" text-rendering="geometricPrecision" font-size="100" text-anchor="middle" fill="#151112">YY1</text>
</g>
<g id="panelE">
<text transform="translate(275.65 494.95) scale(0.756 1)" font-size="13.7" fill="#1c1819">E</text>
<path d="M385.8 596.6L437.0 546.2M385.8 596.6L323.2 539.2M385.8 596.6L408.8 596.2M385.8 596.6L403.8 561.8M385.8 596.6L403.8 545.5M385.8 596.6L422.0 537.0M385.8 596.6L407.0 531.2M385.8 596.6L431.8 595.6M385.8 596.6L348.8 626.2M385.8 596.6L377.5 628.2M385.8 596.6L421.8 556.8M385.8 596.6L354.4 607.9M385.8 596.6L397.8 607.6M385.8 596.6L455.8 611.8M385.8 596.6L403.2 515.0M385.8 596.6L433.8 579.5M385.8 596.6L440.0 564.2M385.8 596.6L412.5 572.5M385.8 596.6L396.8 625.0M385.8 596.6L430.0 633.2M385.8 596.6L413.8 623.2M437.0 546.2L323.2 539.2M437.0 546.2L408.8 596.2M437.0 546.2L403.8 561.8M437.0 546.2L420.0 609.0M437.0 546.2L431.8 595.6M437.0 546.2L335.5 615.8M437.0 546.2L419.2 584.5M437.0 546.2L421.8 556.8M437.0 546.2L455.8 611.8M437.0 546.2L433.8 579.5M437.0 546.2L440.0 564.2M437.0 546.2L412.5 572.5M437.0 546.2L438.2 613.2M437.0 546.2L413.8 623.2M373.8 566.2L385.8 596.6M373.8 566.2L323.2 539.2M373.8 566.2L408.8 596.2M373.8 566.2L403.8 561.8M373.8 566.2L422.0 537.0M373.8 566.2L407.0 531.2M373.8 566.2L420.0 609.0M373.8 566.2L379.2 581.8M373.8 566.2L371.9 599.8M373.8 566.2L431.8 595.6M373.8 566.2L342.5 593.4M373.8 566.2L348.8 626.2M373.8 566.2L335.5 615.8M373.8 566.2L323.0 582.5M373.8 566.2L388.4 570.0M373.8 566.2L419.2 584.5M373.8 566.2L377.5 628.2M373.8 566.2L362.5 581.2M373.8 566.2L354.4 607.9M373.8 566.2L397.8 607.6M373.8 566.2L403.2 515.0M373.8 566.2L433.8 579.5M373.8 566.2L440.0 564.2M373.8 566.2L412.5 572.5M373.8 566.2L396.8 625.0M373.8 566.2L430.0 633.2M373.8 566.2L413.8 623.2M408.8 596.2L420.0 609.0M408.8 596.2L431.8 595.6M408.8 596.2L348.8 626.2M408.8 596.2L335.5 615.8M408.8 596.2L323.0 582.5M408.8 596.2L397.8 607.6M408.8 596.2L455.8 611.8M408.8 596.2L430.0 633.2M408.8 596.2L413.8 623.2M403.8 561.8L408.8 596.2M403.8 561.8L420.0 609.0M403.8 561.8L431.8 595.6M403.8 561.8L348.8 626.2M403.8 561.8L323.0 582.5M403.8 561.8L419.2 584.5M403.8 561.8L377.5 628.2M403.8 561.8L397.8 607.6M403.8 561.8L455.8 611.8M403.8 561.8L412.5 572.5M403.8 561.8L396.8 625.0M403.8 561.8L438.2 613.2M403.8 561.8L413.8 623.2M403.8 545.5L437.0 546.2M403.8 545.5L323.2 539.2M403.8 545.5L403.8 561.8M403.8 545.5L431.8 595.6M403.8 545.5L335.5 615.8M403.8 545.5L323.0 582.5M403.8 545.5L419.2 584.5M403.8 545.5L397.8 607.6M403.8 545.5L455.8 611.8M403.8 545.5L440.0 564.2M403.8 545.5L412.5 572.5M488.8 613.8L408.8 596.2M488.8 613.8L403.8 561.8M488.8 613.8L396.9 582.8M488.8 613.8L420.0 609.0M488.8 613.8L371.9 599.8M488.8 613.8L431.8 595.6M488.8 613.8L419.2 584.5M488.8 613.8L397.8 607.6M488.8 613.8L455.8 611.8M488.8 613.8L433.8 579.5M488.8 613.8L440.0 564.2M488.8 613.8L438.2 613.2M488.8 613.8L430.0 633.2M396.9 582.8L385.8 596.6M396.9 582.8L437.0 546.2M396.9 582.8L408.8 596.2M396.9 582.8L403.8 561.8M396.9 582.8L403.8 545.5M396.9 582.8L407.0 531.2M396.9 582.8L420.0 609.0M396.9 582.8L371.9 599.8M396.9 582.8L431.8 595.6M396.9 582.8L342.5 593.4M396.9 582.8L348.8 626.2M396.9 582.8L335.5 615.8M396.9 582.8L323.0 582.5M396.9 582.8L377.5 628.2M396.9 582.8L421.8 556.8M396.9 582.8L354.4 607.9M396.9 582.8L397.8 607.6M396.9 582.8L455.8 611.8M396.9 582.8L403.2 515.0M396.9 582.8L433.8 579.5M396.9 582.8L440.0 564.2M396.9 582.8L412.5 572.5M396.9 582.8L396.8 625.0M396.9 582.8L438.2 613.2M396.9 582.8L430.0 633.2M396.9 582.8L413.8 623.2M423.0 661.2L408.8 596.2M423.0 661.2L396.9 582.8M423.0 661.2L420.0 609.0M423.0 661.2L371.9 599.8M423.0 661.2L431.8 595.6M423.0 661.2L419.2 584.5M423.0 661.2L377.5 628.2M423.0 661.2L397.8 607.6M423.0 661.2L455.8 611.8M423.0 661.2L440.0 564.2M423.0 661.2L412.5 572.5M423.0 661.2L396.8 625.0M423.0 661.2L438.2 613.2M423.0 661.2L385.0 646.2M423.0 661.2L430.0 633.2M423.0 661.2L413.8 623.2M422.0 537.0L437.0 546.2M422.0 537.0L408.8 596.2M422.0 537.0L403.8 561.8M422.0 537.0L420.0 609.0M422.0 537.0L431.8 595.6M422.0 537.0L348.8 626.2M422.0 537.0L335.5 615.8M422.0 537.0L419.2 584.5M422.0 537.0L421.8 556.8M422.0 537.0L455.8 611.8M422.0 537.0L433.8 579.5M422.0 537.0L440.0 564.2M422.0 537.0L412.5 572.5M422.0 537.0L396.8 625.0M422.0 537.0L430.0 633.2M468.8 590.9L437.0 546.2M468.8 590.9L408.8 596.2M468.8 590.9L403.8 561.8M468.8 590.9L403.8 545.5M468.8 590.9L488.8 613.8M468.8 590.9L396.9 582.8M468.8 590.9L422.0 537.0M468.8 590.9L420.0 609.0M468.8 590.9L431.8 595.6M468.8 590.9L419.2 584.5M468.8 590.9L421.8 556.8M468.8 590.9L397.8 607.6M468.8 590.9L455.8 611.8M468.8 590.9L433.8 579.5M468.8 590.9L440.0 564.2M468.8 590.9L412.5 572.5M468.8 590.9L391.5 534.5M468.8 590.9L438.2 613.2M468.8 590.9L430.0 633.2M468.8 590.9L413.8 623.2M407.0 531.2L437.0 546.2M407.0 531.2L408.8 596.2M407.0 531.2L403.8 561.8M407.0 531.2L403.8 545.5M407.0 531.2L422.0 537.0M407.0 531.2L348.8 626.2M407.0 531.2L335.5 615.8M407.0 531.2L419.2 584.5M407.0 531.2L377.5 628.2M407.0 531.2L421.8 556.8M407.0 531.2L397.8 607.6M407.0 531.2L433.8 579.5M407.0 531.2L440.0 564.2M407.0 531.2L412.5 572.5M420.0 609.0L377.5 628.2M420.0 609.0L396.8 625.0M420.0 609.0L438.2 613.2M420.0 609.0L430.0 633.2M379.2 581.8L385.8 596.6M379.2 581.8L437.0 546.2M379.2 581.8L323.2 539.2M379.2 581.8L408.8 596.2M379.2 581.8L403.8 561.8M379.2 581.8L403.8 545.5M379.2 581.8L422.0 537.0M379.2 581.8L420.0 609.0M379.2 581.8L371.9 599.8M379.2 581.8L431.8 595.6M379.2 581.8L342.5 593.4M379.2 581.8L348.8 626.2M379.2 581.8L335.5 615.8M379.2 581.8L323.0 582.5M379.2 581.8L377.5 628.2M379.2 581.8L421.8 556.8M379.2 581.8L354.4 607.9M379.2 581.8L397.8 607.6M379.2 581.8L455.8 611.8M379.2 581.8L403.2 515.0M379.2 581.8L433.8 579.5M379.2 581.8L440.0 564.2M379.2 581.8L412.5 572.5M379.2 581.8L396.8 625.0M379.2 581.8L438.2 613.2M379.2 581.8L430.0 633.2M379.2 581.8L413.8 623.2M350.5 670.0L408.8 596.2M350.5 670.0L420.0 609.0M350.5 670.0L449.2 636.2M350.5 670.0L371.9 599.8M350.5 670.0L348.8 626.2M350.5 670.0L377.5 628.2M350.5 670.0L354.4 607.9M350.5 670.0L397.8 607.6M350.5 670.0L396.8 625.0M350.5 670.0L413.8 623.2M449.2 636.2L420.0 609.0M449.2 636.2L431.8 595.6M449.2 636.2L419.2 584.5M449.2 636.2L397.8 607.6M449.2 636.2L455.8 611.8M449.2 636.2L433.8 579.5M449.2 636.2L438.2 613.2M449.2 636.2L430.0 633.2M449.2 636.2L413.8 623.2M350.5 559.2L385.8 596.6M350.5 559.2L373.8 566.2M350.5 559.2L408.8 596.2M350.5 559.2L403.8 561.8M350.5 559.2L403.8 545.5M350.5 559.2L396.9 582.8M350.5 559.2L422.0 537.0M350.5 559.2L407.0 531.2M350.5 559.2L379.2 581.8M350.5 559.2L431.8 595.6M350.5 559.2L342.5 593.4M350.5 559.2L348.8 626.2M350.5 559.2L335.5 615.8M350.5 559.2L323.0 582.5M350.5 559.2L388.4 570.0M350.5 559.2L419.2 584.5M350.5 559.2L377.5 628.2M350.5 559.2L421.8 556.8M350.5 559.2L362.5 581.2M350.5 559.2L354.4 607.9M350.5 559.2L397.8 607.6M350.5 559.2L403.2 515.0M350.5 559.2L433.8 579.5M350.5 559.2L412.5 572.5M350.5 559.2L396.8 625.0M350.5 559.2L430.0 633.2M384.2 517.5L385.8 596.6M384.2 517.5L437.0 546.2M384.2 517.5L373.8 566.2M384.2 517.5L323.2 539.2M384.2 517.5L403.8 561.8M384.2 517.5L396.9 582.8M384.2 517.5L407.0 531.2M384.2 517.5L420.0 609.0M384.2 517.5L379.2 581.8M384.2 517.5L350.5 559.2M384.2 517.5L348.8 626.2M384.2 517.5L335.5 615.8M384.2 517.5L323.0 582.5M384.2 517.5L388.4 570.0M384.2 517.5L379.2 544.5M384.2 517.5L421.8 556.8M384.2 517.5L362.5 581.2M384.2 517.5L354.4 607.9M384.2 517.5L455.8 611.8M384.2 517.5L403.2 515.0M384.2 517.5L440.0 564.2M384.2 517.5L412.5 572.5M384.2 517.5L391.5 534.5M384.2 517.5L352.5 536.8M384.2 517.5L413.8 623.2M371.9 599.8L385.8 596.6M371.9 599.8L437.0 546.2M371.9 599.8L408.8 596.2M371.9 599.8L403.8 561.8M371.9 599.8L403.8 545.5M371.9 599.8L422.0 537.0M371.9 599.8L420.0 609.0M371.9 599.8L348.8 626.2M371.9 599.8L335.5 615.8M371.9 599.8L323.0 582.5M371.9 599.8L377.5 628.2M371.9 599.8L421.8 556.8M371.9 599.8L354.4 607.9M371.9 599.8L397.8 607.6M371.9 599.8L403.2 515.0M371.9 599.8L440.0 564.2M371.9 599.8L412.5 572.5M371.9 599.8L396.8 625.0M371.9 599.8L438.2 613.2M371.9 599.8L430.0 633.2M371.9 599.8L413.8 623.2M431.8 595.6L323.2 539.2M431.8 595.6L420.0 609.0M431.8 595.6L377.5 628.2M431.8 595.6L397.8 607.6M431.8 595.6L455.8 611.8M431.8 595.6L438.2 613.2M431.8 595.6L430.0 633.2M342.5 593.4L385.8 596.6M342.5 593.4L437.0 546.2M342.5 593.4L408.8 596.2M342.5 593.4L403.8 545.5M342.5 593.4L422.0 537.0M342.5 593.4L420.0 609.0M342.5 593.4L371.9 599.8M342.5 593.4L348.8 626.2M342.5 593.4L335.5 615.8M342.5 593.4L323.0 582.5M342.5 593.4L419.2 584.5M342.5 593.4L377.5 628.2M342.5 593.4L421.8 556.8M342.5 593.4L354.4 607.9M342.5 593.4L397.8 607.6M342.5 593.4L433.8 579.5M342.5 593.4L412.5 572.5M342.5 593.4L438.2 613.2M348.8 626.2L377.5 628.2M348.8 626.2L396.8 625.0M348.8 626.2L430.0 633.2M348.8 626.2L413.8 623.2M335.5 615.8L377.5 628.2M335.5 615.8L396.8 625.0M323.0 582.5L323.2 539.2M454.2 503.0L437.0 546.2M454.2 503.0L403.8 561.8M454.2 503.0L403.8 545.5M454.2 503.0L396.9 582.8M454.2 503.0L422.0 537.0M454.2 503.0L407.0 531.2M454.2 503.0L384.2 517.5M454.2 503.0L388.4 570.0M454.2 503.0L419.2 584.5M454.2 503.0L389.7 554.4M454.2 503.0L421.8 556.8M454.2 503.0L403.2 515.0M454.2 503.0L440.0 564.2M454.2 503.0L412.5 572.5M454.2 503.0L391.5 534.5M388.4 570.0L385.8 596.6M388.4 570.0L323.2 539.2M388.4 570.0L403.8 561.8M388.4 570.0L403.8 545.5M388.4 570.0L396.9 582.8M388.4 570.0L407.0 531.2M388.4 570.0L420.0 609.0M388.4 570.0L379.2 581.8M388.4 570.0L371.9 599.8M388.4 570.0L431.8 595.6M388.4 570.0L348.8 626.2M388.4 570.0L335.5 615.8M388.4 570.0L323.0 582.5M388.4 570.0L377.5 628.2M388.4 570.0L421.8 556.8M388.4 570.0L362.5 581.2M388.4 570.0L354.4 607.9M388.4 570.0L397.8 607.6M388.4 570.0L403.2 515.0M388.4 570.0L433.8 579.5M388.4 570.0L412.5 572.5M388.4 570.0L396.8 625.0M388.4 570.0L438.2 613.2M388.4 570.0L430.0 633.2M419.2 584.5L420.0 609.0M419.2 584.5L348.8 626.2M419.2 584.5L335.5 615.8M419.2 584.5L323.0 582.5M419.2 584.5L377.5 628.2M419.2 584.5L397.8 607.6M419.2 584.5L455.8 611.8M419.2 584.5L396.8 625.0M419.2 584.5L438.2 613.2M419.2 584.5L413.8 623.2M318.8 616.2L403.8 561.8M318.8 616.2L396.9 582.8M318.8 616.2L342.5 593.4M318.8 616.2L335.5 615.8M318.8 616.2L323.0 582.5M318.8 616.2L389.7 554.4M318.8 616.2L377.5 628.2M318.8 616.2L362.5 581.2M318.8 616.2L354.4 607.9M389.7 554.4L385.8 596.6M389.7 554.4L437.0 546.2M389.7 554.4L373.8 566.2M389.7 554.4L323.2 539.2M389.7 554.4L408.8 596.2M389.7 554.4L403.8 561.8M389.7 554.4L403.8 545.5M389.7 554.4L396.9 582.8M389.7 554.4L422.0 537.0M389.7 554.4L420.0 609.0M389.7 554.4L350.5 559.2M389.7 554.4L371.9 599.8M389.7 554.4L431.8 595.6M389.7 554.4L342.5 593.4M389.7 554.4L348.8 626.2M389.7 554.4L323.0 582.5M389.7 554.4L388.4 570.0M389.7 554.4L419.2 584.5M389.7 554.4L377.5 628.2M389.7 554.4L421.8 556.8M389.7 554.4L362.5 581.2M389.7 554.4L354.4 607.9M389.7 554.4L397.8 607.6M389.7 554.4L455.8 611.8M389.7 554.4L403.2 515.0M389.7 554.4L433.8 579.5M389.7 554.4L412.5 572.5M389.7 554.4L396.8 625.0M389.7 554.4L413.8 623.2M377.5 628.2L396.8 625.0M377.5 628.2L430.0 633.2M377.5 628.2L413.8 623.2M379.2 544.5L385.8 596.6M379.2 544.5L437.0 546.2M379.2 544.5L373.8 566.2M379.2 544.5L323.2 539.2M379.2 544.5L408.8 596.2M379.2 544.5L403.8 561.8M379.2 544.5L396.9 582.8M379.2 544.5L422.0 537.0M379.2 544.5L407.0 531.2M379.2 544.5L420.0 609.0M379.2 544.5L350.5 559.2M379.2 544.5L371.9 599.8M379.2 544.5L431.8 595.6M379.2 544.5L342.5 593.4M379.2 544.5L335.5 615.8M379.2 544.5L323.0 582.5M379.2 544.5L388.4 570.0M379.2 544.5L377.5 628.2M379.2 544.5L421.8 556.8M379.2 544.5L362.5 581.2M379.2 544.5L354.4 607.9M379.2 544.5L397.8 607.6M379.2 544.5L403.2 515.0M379.2 544.5L433.8 579.5M379.2 544.5L440.0 564.2M379.2 544.5L412.5 572.5M379.2 544.5L430.0 633.2M379.2 544.5L413.8 623.2M421.8 556.8L408.8 596.2M421.8 556.8L403.8 561.8M421.8 556.8L420.0 609.0M421.8 556.8L431.8 595.6M421.8 556.8L348.8 626.2M421.8 556.8L335.5 615.8M421.8 556.8L323.0 582.5M421.8 556.8L419.2 584.5M421.8 556.8L377.5 628.2M421.8 556.8L455.8 611.8M421.8 556.8L440.0 564.2M421.8 556.8L412.5 572.5M421.8 556.8L396.8 625.0M421.8 556.8L438.2 613.2M421.8 556.8L413.8 623.2M362.5 581.2L385.8 596.6M362.5 581.2L437.0 546.2M362.5 581.2L323.2 539.2M362.5 581.2L408.8 596.2M362.5 581.2L403.8 561.8M362.5 581.2L403.8 545.5M362.5 581.2L396.9 582.8M362.5 581.2L422.0 537.0M362.5 581.2L407.0 531.2M362.5 581.2L420.0 609.0M362.5 581.2L371.9 599.8M362.5 581.2L342.5 593.4M362.5 581.2L348.8 626.2M362.5 581.2L335.5 615.8M362.5 581.2L419.2 584.5M362.5 581.2L377.5 628.2M362.5 581.2L421.8 556.8M362.5 581.2L354.4 607.9M362.5 581.2L397.8 607.6M362.5 581.2L455.8 611.8M362.5 581.2L403.2 515.0M362.5 581.2L433.8 579.5M362.5 581.2L412.5 572.5M362.5 581.2L396.8 625.0M362.5 581.2L413.8 623.2M354.4 607.9L323.2 539.2M354.4 607.9L408.8 596.2M354.4 607.9L403.8 561.8M354.4 607.9L403.8 545.5M354.4 607.9L407.0 531.2M354.4 607.9L420.0 609.0M354.4 607.9L348.8 626.2M354.4 607.9L335.5 615.8M354.4 607.9L323.0 582.5M354.4 607.9L419.2 584.5M354.4 607.9L377.5 628.2M354.4 607.9L397.8 607.6M354.4 607.9L440.0 564.2M354.4 607.9L412.5 572.5M354.4 607.9L396.8 625.0M354.4 607.9L413.8 623.2M397.8 607.6L420.0 609.0M397.8 607.6L335.5 615.8M397.8 607.6L377.5 628.2M397.8 607.6L396.8 625.0M397.8 607.6L438.2 613.2M397.8 607.6L430.0 633.2M397.8 607.6L413.8 623.2M455.8 611.8L396.8 625.0M455.8 611.8L430.0 633.2M455.8 611.8L413.8 623.2M403.2 515.0L437.0 546.2M403.2 515.0L408.8 596.2M403.2 515.0L407.0 531.2M403.2 515.0L431.8 595.6M403.2 515.0L335.5 615.8M403.2 515.0L323.0 582.5M403.2 515.0L419.2 584.5M403.2 515.0L433.8 579.5M403.2 515.0L440.0 564.2M403.2 515.0L412.5 572.5M403.2 515.0L396.8 625.0M403.2 515.0L438.2 613.2M403.2 515.0L430.0 633.2M403.2 515.0L413.8 623.2M433.8 579.5L408.8 596.2M433.8 579.5L420.0 609.0M433.8 579.5L431.8 595.6M433.8 579.5L335.5 615.8M433.8 579.5L419.2 584.5M433.8 579.5L377.5 628.2M433.8 579.5L397.8 607.6M433.8 579.5L455.8 611.8M433.8 579.5L396.8 625.0M433.8 579.5L430.0 633.2M433.8 579.5L413.8 623.2M502.5 528.2L437.0 546.2M502.5 528.2L408.8 596.2M502.5 528.2L403.8 561.8M502.5 528.2L403.8 545.5M502.5 528.2L396.9 582.8M502.5 528.2L422.0 537.0M502.5 528.2L468.8 590.9M502.5 528.2L407.0 531.2M502.5 528.2L431.8 595.6M502.5 528.2L419.2 584.5M502.5 528.2L421.8 556.8M502.5 528.2L433.8 579.5M502.5 528.2L440.0 564.2M502.5 528.2L412.5 572.5M502.5 528.2L438.2 613.2M440.0 564.2L323.2 539.2M440.0 564.2L408.8 596.2M440.0 564.2L420.0 609.0M440.0 564.2L431.8 595.6M440.0 564.2L348.8 626.2M440.0 564.2L323.0 582.5M440.0 564.2L377.5 628.2M440.0 564.2L397.8 607.6M440.0 564.2L455.8 611.8M440.0 564.2L433.8 579.5M440.0 564.2L438.2 613.2M440.0 564.2L430.0 633.2M440.0 564.2L413.8 623.2M412.5 572.5L408.8 596.2M412.5 572.5L420.0 609.0M412.5 572.5L431.8 595.6M412.5 572.5L419.2 584.5M412.5 572.5L377.5 628.2M412.5 572.5L397.8 607.6M412.5 572.5L455.8 611.8M412.5 572.5L433.8 579.5M412.5 572.5L438.2 613.2M412.5 572.5L430.0 633.2M412.5 572.5L413.8 623.2M391.5 534.5L385.8 596.6M391.5 534.5L437.0 546.2M391.5 534.5L373.8 566.2M391.5 534.5L408.8 596.2M391.5 534.5L403.8 561.8M391.5 534.5L403.8 545.5M391.5 534.5L396.9 582.8M391.5 534.5L422.0 537.0M391.5 534.5L379.2 581.8M391.5 534.5L350.5 559.2M391.5 534.5L431.8 595.6M391.5 534.5L342.5 593.4M391.5 534.5L348.8 626.2M391.5 534.5L335.5 615.8M391.5 534.5L388.4 570.0M391.5 534.5L389.7 554.4M391.5 534.5L362.5 581.2M391.5 534.5L397.8 607.6M391.5 534.5L403.2 515.0M391.5 534.5L433.8 579.5M391.5 534.5L412.5 572.5M391.5 534.5L438.2 613.2M396.8 625.0L323.0 582.5M396.8 625.0L430.0 633.2M396.8 625.0L413.8 623.2M352.5 536.8L385.8 596.6M352.5 536.8L373.8 566.2M352.5 536.8L323.2 539.2M352.5 536.8L403.8 561.8M352.5 536.8L403.8 545.5M352.5 536.8L422.0 537.0M352.5 536.8L407.0 531.2M352.5 536.8L379.2 581.8M352.5 536.8L371.9 599.8M352.5 536.8L431.8 595.6M352.5 536.8L342.5 593.4M352.5 536.8L323.0 582.5M352.5 536.8L388.4 570.0M352.5 536.8L419.2 584.5M352.5 536.8L389.7 554.4M352.5 536.8L421.8 556.8M352.5 536.8L362.5 581.2M352.5 536.8L354.4 607.9M352.5 536.8L397.8 607.6M352.5 536.8L403.2 515.0M352.5 536.8L433.8 579.5M352.5 536.8L440.0 564.2M352.5 536.8L412.5 572.5M352.5 536.8L391.5 534.5M352.5 536.8L396.8 625.0M352.5 536.8L438.2 613.2M352.5 536.8L413.8 623.2M438.2 613.2L323.0 582.5M438.2 613.2L377.5 628.2M438.2 613.2L455.8 611.8M438.2 613.2L430.0 633.2M385.0 646.2L385.8 596.6M385.0 646.2L408.8 596.2M385.0 646.2L403.8 561.8M385.0 646.2L403.8 545.5M385.0 646.2L396.9 582.8M385.0 646.2L420.0 609.0M385.0 646.2L371.9 599.8M385.0 646.2L348.8 626.2M385.0 646.2L419.2 584.5M385.0 646.2L377.5 628.2M385.0 646.2L354.4 607.9M385.0 646.2L397.8 607.6M385.0 646.2L412.5 572.5M385.0 646.2L396.8 625.0M385.0 646.2L430.0 633.2M385.0 646.2L413.8 623.2M293.1 556.2L373.8 566.2M293.1 556.2L323.2 539.2M293.1 556.2L403.8 561.8M293.1 556.2L396.9 582.8M293.1 556.2L379.2 581.8M293.1 556.2L350.5 559.2M293.1 556.2L371.9 599.8M293.1 556.2L342.5 593.4M293.1 556.2L335.5 615.8M293.1 556.2L323.0 582.5M293.1 556.2L318.8 616.2M293.1 556.2L389.7 554.4M293.1 556.2L377.5 628.2M293.1 556.2L379.2 544.5M293.1 556.2L362.5 581.2M293.1 556.2L354.4 607.9M293.1 556.2L440.0 564.2M293.1 556.2L391.5 534.5M293.1 556.2L352.5 536.8M430.0 633.2L323.2 539.2M413.8 623.2L323.2 539.2M413.8 623.2L323.0 582.5M413.8 623.2L430.0 633.2" stroke="#111" stroke-width="0.95" fill="none" stroke-linecap="round"/>
<path d="M375.85 517.50A8.4 8.4 0 0 1 392.65 517.50Z" fill="#9fc593"/>
<path d="M375.85 517.50A8.4 8.4 0 0 0 392.65 517.50Z" fill="#c4b7dc"/>
<circle cx="384.25" cy="517.50" r="5.65" fill="#f5f1f3"/>
<text transform="translate(384.25 518.53) rotate(0.2) scale(0.0262 0.0300)" text-rendering="geometricPrecision" font-size="100" text-anchor="middle" fill="#151112">IRF5</text>
<path d="M314.85 539.25A8.4 8.4 0 0 1 331.65 539.25Z" fill="#9fc593"/>
<path d="M314.85 539.25A8.4 8.4 0 0 0 331.65 539.25Z" fill="#c4b7dc"/>
<circle cx="323.25" cy="539.25" r="5.65" fill="#f1ddd9"/>
<text transform="translate(323.25 540.28) rotate(0.2) scale(0.0262 0.0300)" text-rendering="geometricPrecision" font-size="100" text-anchor="middle" fill="#151112">CITED2</text>
<path d="M344.10 536.75A8.4 8.4 0 0 1 360.90 536.75Z" fill="#9fc593"/>
<path d="M344.10 536.75A8.4 8.4 0 0 0 360.90 536.75Z" fill="#c4b7dc"/>
<circle cx="352.50" cy="536.75" r="5.65" fill="#f3e1dd"/>
<text transform="translate(352.50 537.78) rotate(0.2) scale(0.0262 0.0300)" text-rendering="geometricPrecision" font-size="100" text-anchor="middle" fill="#151112">STAT1</text>
<path d="M383.10 534.50A8.4 8.4 0 0 1 399.90 534.50Z" fill="#9fc593"/>
<path d="M383.10 534.50A8.4 8.4 0 0 0 399.90 534.50Z" fill="#c4b7dc"/>
<circle cx="391.50" cy="534.50" r="5.65" fill="#7da5d5"/>
<text transform="translate(391.50 535.53) rotate(0.2) scale(0.0262 0.0300)" text-rendering="geometricPrecision" font-size="100" text-anchor="middle" fill="#151112">SP1</text>
<path d="M370.85 544.50A8.4 8.4 0 0 1 387.65 544.50Z" fill="#9fc593"/>
<path d="M370.85 544.50A8.4 8.4 0 0 0 387.65 544.50Z" fill="#c4b7dc"/>
<circle cx="379.25" cy="544.50" r="5.65" fill="#d9e1ed"/>
<text transform="translate(379.25 545.53) rotate(0.2) scale(0.0262 0.0300)" text-rendering="geometricPrecision" font-size="100" text-anchor="middle" fill="#151112">NFKB1</text>
<path d="M284.70 556.20A8.4 8.4 0 0 1 301.50 556.20Z" fill="#9fc593"/>
<path d="M284.70 556.20A8.4 8.4 0 0 0 301.50 556.20Z" fill="#c4b7dc"/>
<circle cx="293.10" cy="556.20" r="5.65" fill="#e5b9ad"/>
<text transform="translate(293.10 557.23) rotate(0.2) scale(0.0262 0.0300)" text-rendering="geometricPrecision" font-size="100" text-anchor="middle" fill="#151112">VDR</text>
<path d="M381.30 554.40A8.4 8.4 0 0 1 398.10 554.40Z" fill="#9fc593"/>
<path d="M381.30 554.40A8.4 8.4 0 0 0 398.10 554.40Z" fill="#c4b7dc"/>
<circle cx="389.70" cy="554.40" r="5.65" fill="#f7f3f3"/>
<text transform="translate(389.70 555.43) rotate(0.2) scale(0.0262 0.0300)" text-rendering="geometricPrecision" font-size="100" text-anchor="middle" fill="#151112">NCOA2</text>
<path d="M342.10 559.25A8.4 8.4 0 0 1 358.90 559.25Z" fill="#9fc593"/>
<path d="M342.10 559.25A8.4 8.4 0 0 0 358.90 559.25Z" fill="#c4b7dc"/>
<circle cx="350.50" cy="559.25" r="5.65" fill="#dde5ef"/>
<text transform="translate(350.50 560.28) rotate(0.2) scale(0.0262 0.0300)" text-rendering="geometricPrecision" font-size="100" text-anchor="middle" fill="#151112">IRF1</text>
<path d="M365.35 566.25A8.4 8.4 0 0 1 382.15 566.25Z" fill="#9fc593"/>
<path d="M365.35 566.25A8.4 8.4 0 0 0 382.15 566.25Z" fill="#c4b7dc"/>
<circle cx="373.75" cy="566.25" r="5.65" fill="#f7f5f5"/>
<text transform="translate(373.75 567.28) rotate(0.2) scale(0.0262 0.0300)" text-rendering="geometricPrecision" font-size="100" text-anchor="middle" fill="#151112">CARM1</text>
<path d="M380.00 570.00A8.4 8.4 0 0 1 396.80 570.00Z" fill="#9fc593"/>
<path d="M380.00 570.00A8.4 8.4 0 0 0 396.80 570.00Z" fill="#c4b7dc"/>
<circle cx="388.40" cy="570.00" r="5.65" fill="#a9c1e1"/>
<text transform="translate(388.40 571.03) rotate(0.2) scale(0.0262 0.0300)" text-rendering="geometricPrecision" font-size="100" text-anchor="middle" fill="#151112">MYB</text>
<path d="M314.60 582.50A8.4 8.4 0 0 1 331.40 582.50Z" fill="#9fc593"/>
<path d="M314.60 582.50A8.4 8.4 0 0 0 331.40 582.50Z" fill="#c4b7dc"/>
<circle cx="323.00" cy="582.50" r="5.65" fill="#d1ddeb"/>
<text transform="translate(323.00 583.53) rotate(0.2) scale(0.0262 0.0300)" text-rendering="geometricPrecision" font-size="100" text-anchor="middle" fill="#151112">MEF2D</text>
<path d="M354.10 581.25A8.4 8.4 0 0 1 370.90 581.25Z" fill="#9fc593"/>
<path d="M354.10 581.25A8.4 8.4 0 0 0 370.90 581.25Z" fill="#c4b7dc"/>
<circle cx="362.50" cy="581.25" r="5.65" fill="#edd1c9"/>
<text transform="translate(362.50 582.28) rotate(0.2) scale(0.0262 0.0300)" text-rendering="geometricPrecision" font-size="100" text-anchor="middle" fill="#151112">PPARA</text>
<path d="M370.85 581.75A8.4 8.4 0 0 1 387.65 581.75Z" fill="#9fc593"/>
<path d="M370.85 581.75A8.4 8.4 0 0 0 387.65 581.75Z" fill="#c4b7dc"/>
<circle cx="379.25" cy="581.75" r="5.65" fill="#e9c5bd"/>
<text transform="translate(379.25 582.78) rotate(0.2) scale(0.0262 0.0300)" text-rendering="geometricPrecision" font-size="100" text-anchor="middle" fill="#151112">HIF1A</text>
<path d="M388.50 582.80A8.4 8.4 0 0 1 405.30 582.80Z" fill="#9fc593"/>
<path d="M388.50 582.80A8.4 8.4 0 0 0 405.30 582.80Z" fill="#c4b7dc"/>
<circle cx="396.90" cy="582.80" r="5.65" fill="#edd1c9"/>
<text transform="translate(396.90 583.83) rotate(0.2) scale(0.0262 0.0300)" text-rendering="geometricPrecision" font-size="100" text-anchor="middle" fill="#151112">EP300</text>
<path d="M334.10 593.40A8.4 8.4 0 0 1 350.90 593.40Z" fill="#9fc593"/>
<path d="M334.10 593.40A8.4 8.4 0 0 0 350.90 593.40Z" fill="#c4b7dc"/>
<circle cx="342.50" cy="593.40" r="5.65" fill="#e5e9f1"/>
<text transform="translate(342.50 594.43) rotate(0.2) scale(0.0262 0.0300)" text-rendering="geometricPrecision" font-size="100" text-anchor="middle" fill="#151112">KAT2B</text>
<path d="M363.50 599.80A8.4 8.4 0 0 1 380.30 599.80Z" fill="#9fc593"/>
<path d="M363.50 599.80A8.4 8.4 0 0 0 380.30 599.80Z" fill="#c4b7dc"/>
<circle cx="371.90" cy="599.80" r="5.65" fill="#e1b1a5"/>
<text transform="translate(371.90 600.83) rotate(0.2) scale(0.0262 0.0300)" text-rendering="geometricPrecision" font-size="100" text-anchor="middle" fill="#151112">JUN</text>
<path d="M377.40 596.60A8.4 8.4 0 0 1 394.20 596.60Z" fill="#9fc593"/>
<path d="M377.40 596.60A8.4 8.4 0 0 0 394.20 596.60Z" fill="#c4b7dc"/>
<circle cx="385.80" cy="596.60" r="5.65" fill="#f5f1f1"/>
<text transform="translate(385.80 597.63) rotate(0.2) scale(0.0262 0.0300)" text-rendering="geometricPrecision" font-size="100" text-anchor="middle" fill="#151112">AKT1</text>
<path d="M346.00 607.90A8.4 8.4 0 0 1 362.80 607.90Z" fill="#9fc593"/>
<path d="M346.00 607.90A8.4 8.4 0 0 0 362.80 607.90Z" fill="#c4b7dc"/>
<circle cx="354.40" cy="607.90" r="5.65" fill="#d99989"/>
<text transform="translate(354.40 608.93) rotate(0.2) scale(0.0262 0.0300)" text-rendering="geometricPrecision" font-size="100" text-anchor="middle" fill="#151112">PPARG</text>
<path d="M445.85 503.00A8.4 8.4 0 0 1 462.65 503.00Z" fill="#9fc593"/>
<path d="M445.85 503.00A8.4 8.4 0 0 0 462.65 503.00Z" fill="#c4b7dc"/>
<circle cx="454.25" cy="503.00" r="5.65" fill="#d99585"/>
<text transform="translate(454.25 504.03) rotate(0.2) scale(0.0262 0.0300)" text-rendering="geometricPrecision" font-size="100" text-anchor="middle" fill="#151112">MNX1</text>
<path d="M394.85 515.00A8.4 8.4 0 0 1 411.65 515.00Z" fill="#9fc593"/>
<path d="M394.85 515.00A8.4 8.4 0 0 0 411.65 515.00Z" fill="#c4b7dc"/>
<circle cx="403.25" cy="515.00" r="5.65" fill="#edcdc5"/>
<text transform="translate(403.25 516.03) rotate(0.2) scale(0.0262 0.0300)" text-rendering="geometricPrecision" font-size="100" text-anchor="middle" fill="#151112">RELA</text>
<path d="M494.10 528.25A8.4 8.4 0 0 1 510.90 528.25Z" fill="#9fc593"/>
<path d="M494.10 528.25A8.4 8.4 0 0 0 510.90 528.25Z" fill="#c4b7dc"/>
<circle cx="502.50" cy="528.25" r="5.65" fill="#e5e9ef"/>
<text transform="translate(502.50 529.28) rotate(0.2) scale(0.0262 0.0300)" text-rendering="geometricPrecision" font-size="100" text-anchor="middle" fill="#151112">SMAD1</text>
<circle cx="407.00" cy="531.25" r="6.2" fill="#f9f7f7"/>
<text transform="translate(407.00 532.28) rotate(0.2) scale(0.0262 0.0300)" text-rendering="geometricPrecision" font-size="100" text-anchor="middle" fill="#151112">MDM2</text>
<path d="M413.60 537.00A8.4 8.4 0 0 1 430.40 537.00Z" fill="#9fc593"/>
<path d="M413.60 537.00A8.4 8.4 0 0 0 430.40 537.00Z" fill="#c4b7dc"/>
<circle cx="422.00" cy="537.00" r="5.65" fill="#d19181"/>
<text transform="translate(422.00 538.03) rotate(0.2) scale(0.0262 0.0300)" text-rendering="geometricPrecision" font-size="100" text-anchor="middle" fill="#151112">FOXO3</text>
<path d="M395.35 545.50A8.4 8.4 0 0 1 412.15 545.50Z" fill="#9fc593"/>
<path d="M395.35 545.50A8.4 8.4 0 0 0 412.15 545.50Z" fill="#c4b7dc"/>
<circle cx="403.75" cy="545.50" r="5.65" fill="#e9c9bd"/>
<text transform="translate(403.75 546.53) rotate(0.2) scale(0.0262 0.0300)" text-rendering="geometricPrecision" font-size="100" text-anchor="middle" fill="#151112">CTNNB1</text>
<circle cx="437.00" cy="546.25" r="6.2" fill="#d18171"/>
<text transform="translate(437.00 547.28) rotate(0.2) scale(0.0262 0.0300)" text-rendering="geometricPrecision" font-size="100" text-anchor="middle" fill="#151112">CDKN1A</text>
<path d="M413.35 556.75A8.4 8.4 0 0 1 430.15 556.75Z" fill="#9fc593"/>
<path d="M413.35 556.75A8.4 8.4 0 0 0 430.15 556.75Z" fill="#c4b7dc"/>
<circle cx="421.75" cy="556.75" r="5.65" fill="#b9cde5"/>
<text transform="translate(421.75 557.78) rotate(0.2) scale(0.0262 0.0300)" text-rendering="geometricPrecision" font-size="100" text-anchor="middle" fill="#151112">NOTCH1</text>
<path d="M395.35 561.75A8.4 8.4 0 0 1 412.15 561.75Z" fill="#9fc593"/>
<path d="M395.35 561.75A8.4 8.4 0 0 0 412.15 561.75Z" fill="#c4b7dc"/>
<circle cx="403.75" cy="561.75" r="5.65" fill="#f9f5f5"/>
<text transform="translate(403.75 562.78) rotate(0.2) scale(0.0262 0.0300)" text-rendering="geometricPrecision" font-size="100" text-anchor="middle" fill="#151112">CREBBP</text>
<path d="M431.60 564.25A8.4 8.4 0 0 1 448.40 564.25Z" fill="#9fc593"/>
<path d="M431.60 564.25A8.4 8.4 0 0 0 448.40 564.25Z" fill="#c4b7dc"/>
<circle cx="440.00" cy="564.25" r="5.65" fill="#edd1c9"/>
<text transform="translate(440.00 565.28) rotate(0.2) scale(0.0262 0.0300)" text-rendering="geometricPrecision" font-size="100" text-anchor="middle" fill="#151112">SMAD3</text>
<path d="M404.10 572.50A8.4 8.4 0 0 1 420.90 572.50Z" fill="#9fc593"/>
<path d="M404.10 572.50A8.4 8.4 0 0 0 420.90 572.50Z" fill="#c4b7dc"/>
<circle cx="412.50" cy="572.50" r="5.65" fill="#e9c5b9"/>
<text transform="translate(412.50 573.53) rotate(0.2) scale(0.0262 0.0300)" text-rendering="geometricPrecision" font-size="100" text-anchor="middle" fill="#151112">SMAD4</text>
<path d="M425.35 579.50A8.4 8.4 0 0 1 442.15 579.50Z" fill="#9fc593"/>
<path d="M425.35 579.50A8.4 8.4 0 0 0 442.15 579.50Z" fill="#c4b7dc"/>
<circle cx="433.75" cy="579.50" r="5.65" fill="#f5e5e1"/>
<text transform="translate(433.75 580.53) rotate(0.2) scale(0.0262 0.0300)" text-rendering="geometricPrecision" font-size="100" text-anchor="middle" fill="#151112">SIRT1</text>
<path d="M410.85 584.50A8.4 8.4 0 0 1 427.65 584.50Z" fill="#9fc593"/>
<path d="M410.85 584.50A8.4 8.4 0 0 0 427.65 584.50Z" fill="#c4b7dc"/>
<circle cx="419.25" cy="584.50" r="5.65" fill="#edd5cd"/>
<text transform="translate(419.25 585.53) rotate(0.2) scale(0.0262 0.0300)" text-rendering="geometricPrecision" font-size="100" text-anchor="middle" fill="#151112">MYC</text>
<path d="M460.35 590.90A8.4 8.4 0 0 1 477.15 590.90Z" fill="#9fc593"/>
<path d="M460.35 590.90A8.4 8.4 0 0 0 477.15 590.90Z" fill="#c4b7dc"/>
<circle cx="468.75" cy="590.90" r="5.65" fill="#b5cde5"/>
<text transform="translate(468.75 591.93) rotate(0.2) scale(0.0262 0.0300)" text-rendering="geometricPrecision" font-size="100" text-anchor="middle" fill="#151112">HDAC1</text>
<path d="M400.35 596.25A8.4 8.4 0 0 1 417.15 596.25Z" fill="#9fc593"/>
<path d="M400.35 596.25A8.4 8.4 0 0 0 417.15 596.25Z" fill="#c4b7dc"/>
<circle cx="408.75" cy="596.25" r="5.65" fill="#c9d9e9"/>
<text transform="translate(408.75 597.28) rotate(0.2) scale(0.0262 0.0300)" text-rendering="geometricPrecision" font-size="100" text-anchor="middle" fill="#151112">CREB1</text>
<path d="M423.35 595.60A8.4 8.4 0 0 1 440.15 595.60Z" fill="#9fc593"/>
<path d="M423.35 595.60A8.4 8.4 0 0 0 440.15 595.60Z" fill="#c4b7dc"/>
<circle cx="431.75" cy="595.60" r="5.65" fill="#e9c5b9"/>
<text transform="translate(431.75 596.63) rotate(0.2) scale(0.0262 0.0300)" text-rendering="geometricPrecision" font-size="100" text-anchor="middle" fill="#151112">JUNB</text>
<path d="M389.40 607.60A8.4 8.4 0 0 1 406.20 607.60Z" fill="#9fc593"/>
<path d="M389.40 607.60A8.4 8.4 0 0 0 406.20 607.60Z" fill="#c4b7dc"/>
<circle cx="397.80" cy="607.60" r="5.65" fill="#d98d7d"/>
<text transform="translate(397.80 608.63) rotate(0.2) scale(0.0262 0.0300)" text-rendering="geometricPrecision" font-size="100" text-anchor="middle" fill="#151112">RB1</text>
<path d="M411.60 609.00A8.4 8.4 0 0 1 428.40 609.00Z" fill="#9fc593"/>
<path d="M411.60 609.00A8.4 8.4 0 0 0 428.40 609.00Z" fill="#c4b7dc"/>
<circle cx="420.00" cy="609.00" r="5.65" fill="#c9d9e9"/>
<text transform="translate(420.00 610.03) rotate(0.2) scale(0.0262 0.0300)" text-rendering="geometricPrecision" font-size="100" text-anchor="middle" fill="#151112">HDAC3</text>
<path d="M429.85 613.25A8.4 8.4 0 0 1 446.65 613.25Z" fill="#9fc593"/>
<path d="M429.85 613.25A8.4 8.4 0 0 0 446.65 613.25Z" fill="#c4b7dc"/>
<circle cx="438.25" cy="613.25" r="5.65" fill="#f1d9d1"/>
<text transform="translate(438.25 614.28) rotate(0.2) scale(0.0262 0.0300)" text-rendering="geometricPrecision" font-size="100" text-anchor="middle" fill="#151112">STAT3</text>
<circle cx="455.80" cy="611.80" r="8.4" fill="#c4b7dc"/>
<circle cx="455.80" cy="611.80" r="5.65" fill="#e9c1b5"/>
<text transform="translate(455.80 612.83) rotate(0.2) scale(0.0262 0.0300)" text-rendering="geometricPrecision" font-size="100" text-anchor="middle" fill="#151112">BMX</text>
<path d="M480.35 613.75A8.4 8.4 0 0 1 497.15 613.75Z" fill="#9fc593"/>
<path d="M480.35 613.75A8.4 8.4 0 0 0 497.15 613.75Z" fill="#c4b7dc"/>
<circle cx="488.75" cy="613.75" r="5.65" fill="#89a5d1"/>
<text transform="translate(488.75 614.78) rotate(0.2) scale(0.0262 0.0300)" text-rendering="geometricPrecision" font-size="100" text-anchor="middle" fill="#151112">DDIT3</text>
<path d="M310.35 616.25A8.4 8.4 0 0 1 327.15 616.25Z" fill="#9fc593"/>
<path d="M310.35 616.25A8.4 8.4 0 0 0 327.15 616.25Z" fill="#c4b7dc"/>
<circle cx="318.75" cy="616.25" r="5.65" fill="#d1ddeb"/>
<text transform="translate(318.75 617.28) rotate(0.2) scale(0.0262 0.0300)" text-rendering="geometricPrecision" font-size="100" text-anchor="middle" fill="#151112">NCOA1</text>
<path d="M327.10 615.75A8.4 8.4 0 0 1 343.90 615.75Z" fill="#9fc593"/>
<path d="M327.10 615.75A8.4 8.4 0 0 0 343.90 615.75Z" fill="#c4b7dc"/>
<circle cx="335.50" cy="615.75" r="5.65" fill="#a9c1e1"/>
<text transform="translate(335.50 616.78) rotate(0.2) scale(0.0262 0.0300)" text-rendering="geometricPrecision" font-size="100" text-anchor="middle" fill="#151112">MEF2C</text>
<path d="M340.35 626.25A8.4 8.4 0 0 1 357.15 626.25Z" fill="#9fc593"/>
<path d="M340.35 626.25A8.4 8.4 0 0 0 357.15 626.25Z" fill="#c4b7dc"/>
<circle cx="348.75" cy="626.25" r="5.65" fill="#f7f5f5"/>
<text transform="translate(348.75 627.28) rotate(0.2) scale(0.0262 0.0300)" text-rendering="geometricPrecision" font-size="100" text-anchor="middle" fill="#151112">MEF2A</text>
<path d="M369.10 628.25A8.4 8.4 0 0 1 385.90 628.25Z" fill="#9fc593"/>
<path d="M369.10 628.25A8.4 8.4 0 0 0 385.90 628.25Z" fill="#c4b7dc"/>
<circle cx="377.50" cy="628.25" r="5.65" fill="#7da5d5"/>
<text transform="translate(377.50 629.28) rotate(0.2) scale(0.0262 0.0300)" text-rendering="geometricPrecision" font-size="100" text-anchor="middle" fill="#151112">NCOA3</text>
<path d="M388.40 625.00A8.4 8.4 0 0 1 405.20 625.00Z" fill="#9fc593"/>
<path d="M388.40 625.00A8.4 8.4 0 0 0 405.20 625.00Z" fill="#c4b7dc"/>
<circle cx="396.80" cy="625.00" r="5.65" fill="#edcdc5"/>
<text transform="translate(396.80 626.03) rotate(0.2) scale(0.0262 0.0300)" text-rendering="geometricPrecision" font-size="100" text-anchor="middle" fill="#151112">SREBF1</text>
<path d="M405.35 623.25A8.4 8.4 0 0 1 422.15 623.25Z" fill="#9fc593"/>
<path d="M405.35 623.25A8.4 8.4 0 0 0 422.15 623.25Z" fill="#c4b7dc"/>
<circle cx="413.75" cy="623.25" r="5.65" fill="#f5e1dd"/>
<text transform="translate(413.75 624.28) rotate(0.2) scale(0.0262 0.0300)" text-rendering="geometricPrecision" font-size="100" text-anchor="middle" fill="#151112">ZBTB17</text>
<path d="M421.60 633.25A8.4 8.4 0 0 1 438.40 633.25Z" fill="#9fc593"/>
<path d="M421.60 633.25A8.4 8.4 0 0 0 438.40 633.25Z" fill="#c4b7dc"/>
<circle cx="430.00" cy="633.25" r="5.65" fill="#dde5ef"/>
<text transform="translate(430.00 634.28) rotate(0.2) scale(0.0262 0.0300)" text-rendering="geometricPrecision" font-size="100" text-anchor="middle" fill="#151112">YY1</text>
<circle cx="449.25" cy="636.25" r="6.2" fill="#f1d9d5"/>
<text transform="translate(449.25 637.28) rotate(0.2) scale(0.0262 0.0300)" text-rendering="geometricPrecision" font-size="100" text-anchor="middle" fill="#151112">HIST1H4A</text>
<path d="M376.60 646.25A8.4 8.4 0 0 1 393.40 646.25Z" fill="#9fc593"/>
<path d="M376.60 646.25A8.4 8.4 0 0 0 393.40 646.25Z" fill="#c4b7dc"/>
<circle cx="385.00" cy="646.25" r="5.65" fill="#edcdc1"/>
<text transform="translate(385.00 647.28) rotate(0.2) scale(0.0262 0.0300)" text-rendering="geometricPrecision" font-size="100" text-anchor="middle" fill="#151112">TCF7L2</text>
<circle cx="350.50" cy="670.00" r="6.2" fill="#f1d9d5"/>
<text transform="translate(350.50 671.03) rotate(0.2) scale(0.0262 0.0300)" text-rendering="geometricPrecision" font-size="100" text-anchor="middle" fill="#151112">HIST1H3A</text>
<path d="M414.60 661.25A8.4 8.4 0 0 1 431.40 661.25Z" fill="#9fc593"/>
<path d="M414.60 661.25A8.4 8.4 0 0 0 431.40 661.25Z" fill="#c4b7dc"/>
<circle cx="423.00" cy="661.25" r="5.65" fill="#e5b9ad"/>
<text transform="translate(423.00 662.28) rotate(0.2) scale(0.0262 0.0300)" text-rendering="geometricPrecision" font-size="100" text-anchor="middle" fill="#151112">FOSL1</text>
</g>
<rect x="0" y="0" width="520" height="1" fill="#000"/>
<rect x="0" y="0" width="1" height="720" fill="#000"/>
<rect x="0" y="719" width="520" height="1" fill="#000"/>
<rect x="518" y="1" width="2" height="719" fill="#5b5b5b"/>
</svg></body></html>
